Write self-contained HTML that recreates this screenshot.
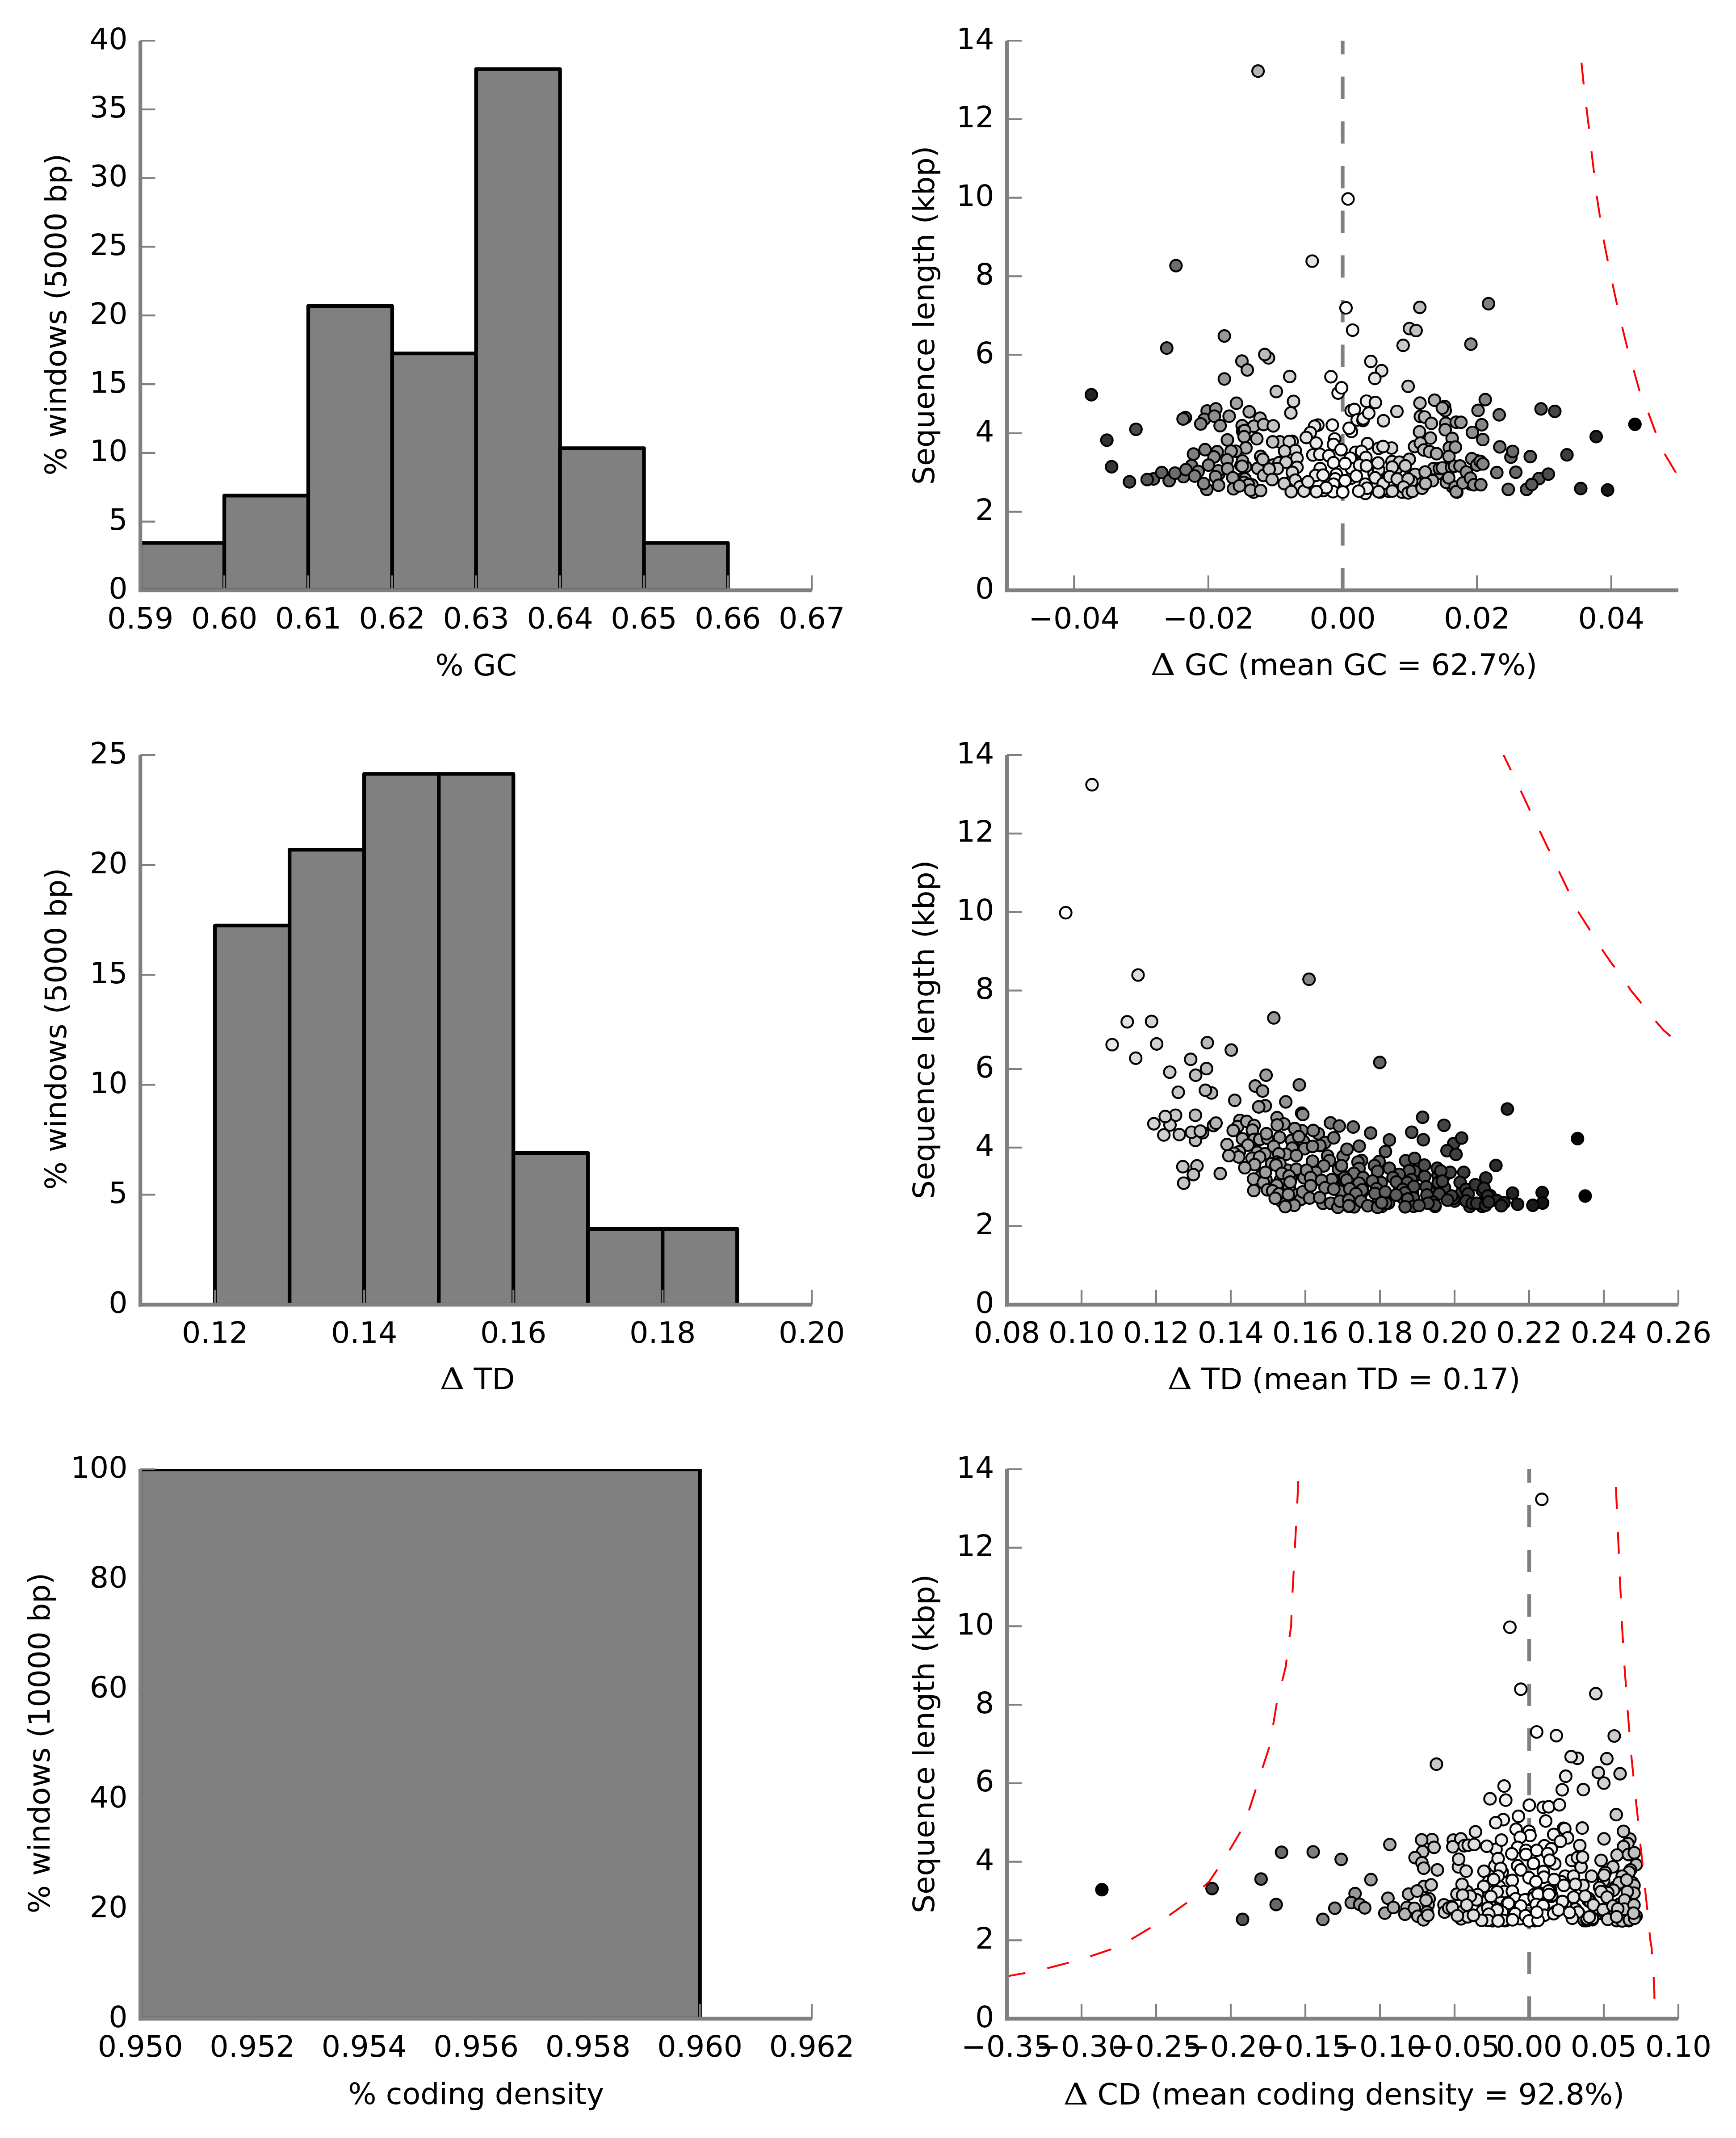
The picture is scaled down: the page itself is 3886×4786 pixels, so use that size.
<!DOCTYPE html>
<html><head><meta charset="utf-8"><title>figure</title>
<style>html,body{margin:0;padding:0;background:#fff}svg{display:block}
text{font-family:"DejaVu Sans","Liberation Sans",sans-serif;font-size:66.67px;fill:#000}</style></head>
<body><svg width="3886" height="4786" viewBox="0 0 3886 4786">
<rect width="3886" height="4786" fill="#fff"/>
<clipPath id="c1"><rect x="314.2" y="91.0" width="1503.0" height="1230.5"/></clipPath>
<g clip-path="url(#c1)">
<rect x="314.2" y="1215.4" width="187.9" height="106.1" fill="#808080" stroke="#000" stroke-width="8.33" stroke-linejoin="round"/>
<rect x="502.1" y="1109.3" width="187.9" height="212.2" fill="#808080" stroke="#000" stroke-width="8.33" stroke-linejoin="round"/>
<rect x="690.0" y="685.0" width="187.9" height="636.5" fill="#808080" stroke="#000" stroke-width="8.33" stroke-linejoin="round"/>
<rect x="877.8" y="791.1" width="187.9" height="530.4" fill="#808080" stroke="#000" stroke-width="8.33" stroke-linejoin="round"/>
<rect x="1065.7" y="154.6" width="187.9" height="1166.9" fill="#808080" stroke="#000" stroke-width="8.33" stroke-linejoin="round"/>
<rect x="1253.6" y="1003.3" width="187.9" height="318.2" fill="#808080" stroke="#000" stroke-width="8.33" stroke-linejoin="round"/>
<rect x="1441.5" y="1215.4" width="187.9" height="106.1" fill="#808080" stroke="#000" stroke-width="8.33" stroke-linejoin="round"/>
</g>
<line x1="314.2" y1="1321.5" x2="314.2" y2="1288.2" stroke="#808080" stroke-width="4.17"/>
<line x1="502.1" y1="1321.5" x2="502.1" y2="1288.2" stroke="#808080" stroke-width="4.17"/>
<line x1="690.0" y1="1321.5" x2="690.0" y2="1288.2" stroke="#808080" stroke-width="4.17"/>
<line x1="877.8" y1="1321.5" x2="877.8" y2="1288.2" stroke="#808080" stroke-width="4.17"/>
<line x1="1065.7" y1="1321.5" x2="1065.7" y2="1288.2" stroke="#808080" stroke-width="4.17"/>
<line x1="1253.6" y1="1321.5" x2="1253.6" y2="1288.2" stroke="#808080" stroke-width="4.17"/>
<line x1="1441.4" y1="1321.5" x2="1441.4" y2="1288.2" stroke="#808080" stroke-width="4.17"/>
<line x1="1629.3" y1="1321.5" x2="1629.3" y2="1288.2" stroke="#808080" stroke-width="4.17"/>
<line x1="1817.2" y1="1321.5" x2="1817.2" y2="1288.2" stroke="#808080" stroke-width="4.17"/>
<line x1="314.2" y1="1321.5" x2="347.5" y2="1321.5" stroke="#808080" stroke-width="4.17"/>
<line x1="314.2" y1="1167.7" x2="347.5" y2="1167.7" stroke="#808080" stroke-width="4.17"/>
<line x1="314.2" y1="1013.9" x2="347.5" y2="1013.9" stroke="#808080" stroke-width="4.17"/>
<line x1="314.2" y1="860.1" x2="347.5" y2="860.1" stroke="#808080" stroke-width="4.17"/>
<line x1="314.2" y1="706.2" x2="347.5" y2="706.2" stroke="#808080" stroke-width="4.17"/>
<line x1="314.2" y1="552.4" x2="347.5" y2="552.4" stroke="#808080" stroke-width="4.17"/>
<line x1="314.2" y1="398.6" x2="347.5" y2="398.6" stroke="#808080" stroke-width="4.17"/>
<line x1="314.2" y1="244.8" x2="347.5" y2="244.8" stroke="#808080" stroke-width="4.17"/>
<line x1="314.2" y1="91.0" x2="347.5" y2="91.0" stroke="#808080" stroke-width="4.17"/>
<line x1="314.2" y1="91.0" x2="314.2" y2="1325.7" stroke="#808080" stroke-width="8.33"/>
<line x1="310.0" y1="1321.5" x2="1817.2" y2="1321.5" stroke="#808080" stroke-width="8.33"/>
<text x="314.2" y="1406.5" text-anchor="middle">0.59</text>
<text x="502.1" y="1406.5" text-anchor="middle">0.60</text>
<text x="690.0" y="1406.5" text-anchor="middle">0.61</text>
<text x="877.8" y="1406.5" text-anchor="middle">0.62</text>
<text x="1065.7" y="1406.5" text-anchor="middle">0.63</text>
<text x="1253.6" y="1406.5" text-anchor="middle">0.64</text>
<text x="1441.4" y="1406.5" text-anchor="middle">0.65</text>
<text x="1629.3" y="1406.5" text-anchor="middle">0.66</text>
<text x="1817.2" y="1406.5" text-anchor="middle">0.67</text>
<text x="285.7" y="1340.0" text-anchor="end">0</text>
<text x="285.7" y="1186.2" text-anchor="end">5</text>
<text x="285.7" y="1032.4" text-anchor="end">10</text>
<text x="285.7" y="878.6" text-anchor="end">15</text>
<text x="285.7" y="724.8" text-anchor="end">20</text>
<text x="285.7" y="570.9" text-anchor="end">25</text>
<text x="285.7" y="417.1" text-anchor="end">30</text>
<text x="285.7" y="263.3" text-anchor="end">35</text>
<text x="285.7" y="109.5" text-anchor="end">40</text>
<text x="1065.7" y="1511.5" text-anchor="middle">% GC</text>
<text transform="translate(148.0,704.2) rotate(-90)" text-anchor="middle">% windows (5000 bp)</text>
<clipPath id="c2"><rect x="314.2" y="1690.0" width="1503.0" height="1230.5"/></clipPath>
<g clip-path="url(#c2)">
<rect x="481.2" y="2071.9" width="167.0" height="848.6" fill="#808080" stroke="#000" stroke-width="8.33" stroke-linejoin="round"/>
<rect x="648.2" y="1902.2" width="167.0" height="1018.3" fill="#808080" stroke="#000" stroke-width="8.33" stroke-linejoin="round"/>
<rect x="815.2" y="1732.4" width="167.0" height="1188.1" fill="#808080" stroke="#000" stroke-width="8.33" stroke-linejoin="round"/>
<rect x="982.2" y="1732.4" width="167.0" height="1188.1" fill="#808080" stroke="#000" stroke-width="8.33" stroke-linejoin="round"/>
<rect x="1149.2" y="2581.1" width="167.0" height="339.4" fill="#808080" stroke="#000" stroke-width="8.33" stroke-linejoin="round"/>
<rect x="1316.2" y="2750.8" width="167.0" height="169.7" fill="#808080" stroke="#000" stroke-width="8.33" stroke-linejoin="round"/>
<rect x="1483.2" y="2750.8" width="167.0" height="169.7" fill="#808080" stroke="#000" stroke-width="8.33" stroke-linejoin="round"/>
</g>
<line x1="481.2" y1="2920.5" x2="481.2" y2="2887.2" stroke="#808080" stroke-width="4.17"/>
<line x1="815.2" y1="2920.5" x2="815.2" y2="2887.2" stroke="#808080" stroke-width="4.17"/>
<line x1="1149.2" y1="2920.5" x2="1149.2" y2="2887.2" stroke="#808080" stroke-width="4.17"/>
<line x1="1483.2" y1="2920.5" x2="1483.2" y2="2887.2" stroke="#808080" stroke-width="4.17"/>
<line x1="1817.2" y1="2920.5" x2="1817.2" y2="2887.2" stroke="#808080" stroke-width="4.17"/>
<line x1="314.2" y1="2920.5" x2="347.5" y2="2920.5" stroke="#808080" stroke-width="4.17"/>
<line x1="314.2" y1="2674.4" x2="347.5" y2="2674.4" stroke="#808080" stroke-width="4.17"/>
<line x1="314.2" y1="2428.3" x2="347.5" y2="2428.3" stroke="#808080" stroke-width="4.17"/>
<line x1="314.2" y1="2182.2" x2="347.5" y2="2182.2" stroke="#808080" stroke-width="4.17"/>
<line x1="314.2" y1="1936.1" x2="347.5" y2="1936.1" stroke="#808080" stroke-width="4.17"/>
<line x1="314.2" y1="1690.0" x2="347.5" y2="1690.0" stroke="#808080" stroke-width="4.17"/>
<line x1="314.2" y1="1690.0" x2="314.2" y2="2924.7" stroke="#808080" stroke-width="8.33"/>
<line x1="310.0" y1="2920.5" x2="1817.2" y2="2920.5" stroke="#808080" stroke-width="8.33"/>
<text x="481.2" y="3005.5" text-anchor="middle">0.12</text>
<text x="815.2" y="3005.5" text-anchor="middle">0.14</text>
<text x="1149.2" y="3005.5" text-anchor="middle">0.16</text>
<text x="1483.2" y="3005.5" text-anchor="middle">0.18</text>
<text x="1817.2" y="3005.5" text-anchor="middle">0.20</text>
<text x="285.7" y="2939.0" text-anchor="end">0</text>
<text x="285.7" y="2692.9" text-anchor="end">5</text>
<text x="285.7" y="2446.8" text-anchor="end">10</text>
<text x="285.7" y="2200.7" text-anchor="end">15</text>
<text x="285.7" y="1954.6" text-anchor="end">20</text>
<text x="285.7" y="1708.5" text-anchor="end">25</text>
<text transform="translate(987.8,3109.8) scale(1.167,1)" x="-3" y="0" style="font-family:'DejaVu Serif','Liberation Serif',serif">Δ</text>
<text x="1106.6" y="3109.8" text-anchor="middle">TD</text>
<text transform="translate(148.0,2303.2) rotate(-90)" text-anchor="middle">% windows (5000 bp)</text>
<clipPath id="c3"><rect x="314.2" y="3289.0" width="1503.0" height="1230.0"/></clipPath>
<g clip-path="url(#c3)">
<rect x="314.2" y="3289.0" width="1252.5" height="1230.0" fill="#808080" stroke="#000" stroke-width="8.33" stroke-linejoin="round"/>
</g>
<line x1="314.2" y1="4519.0" x2="314.2" y2="4485.7" stroke="#808080" stroke-width="4.17"/>
<line x1="564.7" y1="4519.0" x2="564.7" y2="4485.7" stroke="#808080" stroke-width="4.17"/>
<line x1="815.2" y1="4519.0" x2="815.2" y2="4485.7" stroke="#808080" stroke-width="4.17"/>
<line x1="1065.7" y1="4519.0" x2="1065.7" y2="4485.7" stroke="#808080" stroke-width="4.17"/>
<line x1="1316.2" y1="4519.0" x2="1316.2" y2="4485.7" stroke="#808080" stroke-width="4.17"/>
<line x1="1566.7" y1="4519.0" x2="1566.7" y2="4485.7" stroke="#808080" stroke-width="4.17"/>
<line x1="1817.2" y1="4519.0" x2="1817.2" y2="4485.7" stroke="#808080" stroke-width="4.17"/>
<line x1="314.2" y1="4519.0" x2="347.5" y2="4519.0" stroke="#808080" stroke-width="4.17"/>
<line x1="314.2" y1="4273.0" x2="347.5" y2="4273.0" stroke="#808080" stroke-width="4.17"/>
<line x1="314.2" y1="4027.0" x2="347.5" y2="4027.0" stroke="#808080" stroke-width="4.17"/>
<line x1="314.2" y1="3781.0" x2="347.5" y2="3781.0" stroke="#808080" stroke-width="4.17"/>
<line x1="314.2" y1="3535.0" x2="347.5" y2="3535.0" stroke="#808080" stroke-width="4.17"/>
<line x1="314.2" y1="3289.0" x2="347.5" y2="3289.0" stroke="#808080" stroke-width="4.17"/>
<line x1="314.2" y1="3289.0" x2="314.2" y2="4523.2" stroke="#808080" stroke-width="8.33"/>
<line x1="310.0" y1="4519.0" x2="1817.2" y2="4519.0" stroke="#808080" stroke-width="8.33"/>
<text x="314.2" y="4604.0" text-anchor="middle">0.950</text>
<text x="564.7" y="4604.0" text-anchor="middle">0.952</text>
<text x="815.2" y="4604.0" text-anchor="middle">0.954</text>
<text x="1065.7" y="4604.0" text-anchor="middle">0.956</text>
<text x="1316.2" y="4604.0" text-anchor="middle">0.958</text>
<text x="1566.7" y="4604.0" text-anchor="middle">0.960</text>
<text x="1817.2" y="4604.0" text-anchor="middle">0.962</text>
<text x="285.7" y="4537.5" text-anchor="end">0</text>
<text x="285.7" y="4291.5" text-anchor="end">20</text>
<text x="285.7" y="4045.5" text-anchor="end">40</text>
<text x="285.7" y="3799.5" text-anchor="end">60</text>
<text x="285.7" y="3553.5" text-anchor="end">80</text>
<text x="285.7" y="3307.5" text-anchor="end">100</text>
<text x="1065.7" y="4709.8" text-anchor="middle">% coding density</text>
<text transform="translate(110.7,3902.0) rotate(-90)" text-anchor="middle">% windows (10000 bp)</text>
<line x1="3005.5" y1="1321.5" x2="3005.5" y2="91.0" stroke="#808080" stroke-width="8.33" stroke-dasharray="50 50"/>
<clipPath id="s1"><rect x="2254.0" y="91.0" width="1503.0" height="1230.5"/></clipPath>
<g clip-path="url(#s1)" stroke="#000" stroke-width="4.17">
<circle cx="2780.0" cy="1072.1" r="13" fill="#a7a7a7"/>
<circle cx="3095.6" cy="1079.1" r="13" fill="#dcdcdc"/>
<circle cx="3084.1" cy="1058.7" r="13" fill="#e0e0e0"/>
<circle cx="2921.5" cy="1088.3" r="13" fill="#dedede"/>
<circle cx="3138.4" cy="1101.7" r="13" fill="#cbcbcb"/>
<circle cx="3311.6" cy="1036.3" r="13" fill="#888888"/>
<circle cx="2728.1" cy="1061.4" r="13" fill="#939393"/>
<circle cx="3305.6" cy="1031.7" r="13" fill="#8a8a8a"/>
<circle cx="3173.5" cy="1088.7" r="13" fill="#bebebe"/>
<circle cx="3251.5" cy="1090.0" r="13" fill="#9f9f9f"/>
<circle cx="2806.2" cy="1101.7" r="13" fill="#b2b2b2"/>
<circle cx="3291.5" cy="1083.4" r="13" fill="#909090"/>
<circle cx="3176.9" cy="1066.6" r="13" fill="#bcbcbc"/>
<circle cx="2982.8" cy="1085.5" r="13" fill="#f6f6f6"/>
<circle cx="3120.4" cy="1067.1" r="13" fill="#d2d2d2"/>
<circle cx="3238.5" cy="1046.9" r="13" fill="#a4a4a4"/>
<circle cx="3075.9" cy="1060.4" r="13" fill="#e4e4e4"/>
<circle cx="3024.4" cy="1070.3" r="13" fill="#f8f8f8"/>
<circle cx="2802.5" cy="1085.7" r="13" fill="#b0b0b0"/>
<circle cx="3081.2" cy="1042.9" r="13" fill="#e2e2e2"/>
<circle cx="3119.9" cy="1040.3" r="13" fill="#d3d3d3"/>
<circle cx="3193.6" cy="1079.5" r="13" fill="#b6b6b6"/>
<circle cx="2849.9" cy="1041.2" r="13" fill="#c3c3c3"/>
<circle cx="2788.1" cy="1044.7" r="13" fill="#aaaaaa"/>
<circle cx="3109.1" cy="1099.8" r="13" fill="#d7d7d7"/>
<circle cx="3218.0" cy="1060.3" r="13" fill="#acacac"/>
<circle cx="3261.0" cy="1101.7" r="13" fill="#9c9c9c"/>
<circle cx="2777.9" cy="1042.0" r="13" fill="#a7a7a7"/>
<circle cx="3168.6" cy="1077.8" r="13" fill="#c0c0c0"/>
<circle cx="3153.5" cy="1101.7" r="13" fill="#c5c5c5"/>
<circle cx="3127.0" cy="1047.7" r="13" fill="#d0d0d0"/>
<circle cx="2887.1" cy="1080.1" r="13" fill="#d1d1d1"/>
<circle cx="3003.3" cy="1087.5" r="13" fill="#fefefe"/>
<circle cx="3155.6" cy="1101.7" r="13" fill="#c5c5c5"/>
<circle cx="3088.8" cy="1101.7" r="13" fill="#dfdfdf"/>
<circle cx="2816.1" cy="159.2" r="13" fill="#b5b5b5"/>
<circle cx="3017.5" cy="445.4" r="13" fill="#fafafa"/>
<circle cx="2937.3" cy="584.5" r="13" fill="#e4e4e4"/>
<circle cx="2632.4" cy="594.6" r="13" fill="#6e6e6e"/>
<circle cx="2740.7" cy="752.1" r="13" fill="#989898"/>
<circle cx="2611.7" cy="779.2" r="13" fill="#666666"/>
<circle cx="2740.7" cy="848.3" r="13" fill="#989898"/>
<circle cx="2767.8" cy="902.7" r="13" fill="#a3a3a3"/>
<circle cx="3013.0" cy="689.2" r="13" fill="#fcfcfc"/>
<circle cx="3178.2" cy="688.1" r="13" fill="#bcbcbc"/>
<circle cx="3332.0" cy="679.8" r="13" fill="#808080"/>
<circle cx="3027.8" cy="739.0" r="13" fill="#f6f6f6"/>
<circle cx="3155.0" cy="735.5" r="13" fill="#c5c5c5"/>
<circle cx="3169.9" cy="740.0" r="13" fill="#bfbfbf"/>
<circle cx="3140.9" cy="773.2" r="13" fill="#cacaca"/>
<circle cx="3292.6" cy="770.4" r="13" fill="#8f8f8f"/>
<circle cx="2839.5" cy="801.2" r="13" fill="#bebebe"/>
<circle cx="2831.2" cy="793.6" r="13" fill="#bbbbbb"/>
<circle cx="3068.6" cy="809.1" r="13" fill="#e6e6e6"/>
<circle cx="3092.8" cy="829.9" r="13" fill="#dddddd"/>
<circle cx="2780.0" cy="808.4" r="13" fill="#a7a7a7"/>
<circle cx="2792.1" cy="828.1" r="13" fill="#acacac"/>
<circle cx="2443.0" cy="883.7" r="13" fill="#242424"/>
<circle cx="2542.8" cy="961.0" r="13" fill="#4b4b4b"/>
<circle cx="2477.7" cy="985.3" r="13" fill="#323232"/>
<circle cx="2488.3" cy="1044.9" r="13" fill="#363636"/>
<circle cx="2528.3" cy="1078.6" r="13" fill="#464646"/>
<circle cx="2582.2" cy="1072.2" r="13" fill="#5a5a5a"/>
<circle cx="2567.9" cy="1073.5" r="13" fill="#555555"/>
<circle cx="2600.6" cy="1057.9" r="13" fill="#626262"/>
<circle cx="2617.2" cy="1076.0" r="13" fill="#686868"/>
<circle cx="2649.1" cy="1067.0" r="13" fill="#747474"/>
<circle cx="2630.1" cy="1059.2" r="13" fill="#6d6d6d"/>
<circle cx="2653.5" cy="934.8" r="13" fill="#767676"/>
<circle cx="2648.3" cy="937.9" r="13" fill="#747474"/>
<circle cx="2702.2" cy="920.0" r="13" fill="#898989"/>
<circle cx="2721.6" cy="915.3" r="13" fill="#919191"/>
<circle cx="2695.7" cy="938.7" r="13" fill="#878787"/>
<circle cx="2718.3" cy="931.7" r="13" fill="#8f8f8f"/>
<circle cx="2687.9" cy="949.0" r="13" fill="#848484"/>
<circle cx="2731.2" cy="952.9" r="13" fill="#949494"/>
<circle cx="2751.4" cy="931.7" r="13" fill="#9c9c9c"/>
<circle cx="2796.3" cy="921.8" r="13" fill="#aeaeae"/>
<circle cx="2820.6" cy="936.1" r="13" fill="#b7b7b7"/>
<circle cx="2780.5" cy="952.9" r="13" fill="#a8a8a8"/>
<circle cx="2806.4" cy="954.2" r="13" fill="#b2b2b2"/>
<circle cx="2828.4" cy="950.3" r="13" fill="#bababa"/>
<circle cx="2781.8" cy="965.9" r="13" fill="#a8a8a8"/>
<circle cx="2786.2" cy="963.8" r="13" fill="#aaaaaa"/>
<circle cx="2784.9" cy="977.6" r="13" fill="#a9a9a9"/>
<circle cx="2813.4" cy="982.2" r="13" fill="#b4b4b4"/>
<circle cx="2747.5" cy="984.8" r="13" fill="#9b9b9b"/>
<circle cx="2789.0" cy="1002.7" r="13" fill="#ababab"/>
<circle cx="2766.2" cy="1010.0" r="13" fill="#a2a2a2"/>
<circle cx="2755.8" cy="1010.0" r="13" fill="#9e9e9e"/>
<circle cx="2697.5" cy="1006.6" r="13" fill="#878787"/>
<circle cx="2724.7" cy="1011.2" r="13" fill="#929292"/>
<circle cx="2671.6" cy="1016.4" r="13" fill="#7d7d7d"/>
<circle cx="2717.5" cy="1022.9" r="13" fill="#8f8f8f"/>
<circle cx="2746.8" cy="1029.4" r="13" fill="#9a9a9a"/>
<circle cx="2781.2" cy="1032.0" r="13" fill="#a8a8a8"/>
<circle cx="2780.5" cy="1043.6" r="13" fill="#a8a8a8"/>
<circle cx="2821.9" cy="1021.6" r="13" fill="#b8b8b8"/>
<circle cx="2705.3" cy="1041.1" r="13" fill="#8a8a8a"/>
<circle cx="2667.2" cy="1042.4" r="13" fill="#7b7b7b"/>
<circle cx="2654.8" cy="1051.4" r="13" fill="#777777"/>
<circle cx="2682.0" cy="1055.3" r="13" fill="#818181"/>
<circle cx="2727.3" cy="1054.0" r="13" fill="#939393"/>
<circle cx="2748.1" cy="1049.4" r="13" fill="#9b9b9b"/>
<circle cx="2815.5" cy="1048.3" r="13" fill="#b5b5b5"/>
<circle cx="2674.2" cy="1065.7" r="13" fill="#7e7e7e"/>
<circle cx="2720.9" cy="1067.0" r="13" fill="#909090"/>
<circle cx="2759.7" cy="1069.6" r="13" fill="#9f9f9f"/>
<circle cx="2786.9" cy="1072.2" r="13" fill="#aaaaaa"/>
<circle cx="2784.4" cy="1079.9" r="13" fill="#a9a9a9"/>
<circle cx="2701.4" cy="1095.5" r="13" fill="#898989"/>
<circle cx="2694.4" cy="1082.5" r="13" fill="#868686"/>
<circle cx="2727.8" cy="1086.4" r="13" fill="#939393"/>
<circle cx="2761.0" cy="1094.2" r="13" fill="#a0a0a0"/>
<circle cx="2794.7" cy="1085.1" r="13" fill="#adadad"/>
<circle cx="2774.5" cy="1087.7" r="13" fill="#a5a5a5"/>
<circle cx="2799.4" cy="1097.3" r="13" fill="#afafaf"/>
<circle cx="2821.9" cy="1098.1" r="13" fill="#b8b8b8"/>
<circle cx="2828.4" cy="1064.4" r="13" fill="#bababa"/>
<circle cx="2887.0" cy="842.8" r="13" fill="#d1d1d1"/>
<circle cx="2856.9" cy="876.5" r="13" fill="#c5c5c5"/>
<circle cx="2895.5" cy="898.5" r="13" fill="#d4d4d4"/>
<circle cx="2889.6" cy="924.4" r="13" fill="#d2d2d2"/>
<circle cx="2979.3" cy="843.3" r="13" fill="#f5f5f5"/>
<circle cx="2995.3" cy="879.8" r="13" fill="#fbfbfb"/>
<circle cx="3003.1" cy="868.2" r="13" fill="#fefefe"/>
<circle cx="3077.5" cy="847.2" r="13" fill="#e3e3e3"/>
<circle cx="3152.1" cy="864.8" r="13" fill="#c6c6c6"/>
<circle cx="3058.8" cy="898.0" r="13" fill="#eaeaea"/>
<circle cx="3078.8" cy="901.1" r="13" fill="#e3e3e3"/>
<circle cx="3024.6" cy="919.2" r="13" fill="#f8f8f8"/>
<circle cx="3031.6" cy="916.6" r="13" fill="#f5f5f5"/>
<circle cx="3038.1" cy="940.0" r="13" fill="#f2f2f2"/>
<circle cx="3051.1" cy="941.3" r="13" fill="#ededed"/>
<circle cx="3051.6" cy="937.4" r="13" fill="#ededed"/>
<circle cx="3064.0" cy="924.9" r="13" fill="#e8e8e8"/>
<circle cx="3127.0" cy="921.0" r="13" fill="#d0d0d0"/>
<circle cx="3096.9" cy="941.8" r="13" fill="#dbdbdb"/>
<circle cx="3178.6" cy="902.4" r="13" fill="#bcbcbc"/>
<circle cx="3211.2" cy="895.9" r="13" fill="#afafaf"/>
<circle cx="3233.8" cy="910.2" r="13" fill="#a6a6a6"/>
<circle cx="3235.1" cy="919.2" r="13" fill="#a6a6a6"/>
<circle cx="3228.6" cy="913.3" r="13" fill="#a8a8a8"/>
<circle cx="3179.4" cy="932.2" r="13" fill="#bbbbbb"/>
<circle cx="3189.0" cy="933.5" r="13" fill="#b8b8b8"/>
<circle cx="3204.0" cy="947.7" r="13" fill="#b2b2b2"/>
<circle cx="3236.4" cy="947.7" r="13" fill="#a5a5a5"/>
<circle cx="3235.1" cy="962.0" r="13" fill="#a6a6a6"/>
<circle cx="3259.7" cy="945.2" r="13" fill="#9c9c9c"/>
<circle cx="3177.5" cy="966.7" r="13" fill="#bcbcbc"/>
<circle cx="3201.9" cy="980.7" r="13" fill="#b3b3b3"/>
<circle cx="3250.6" cy="981.4" r="13" fill="#a0a0a0"/>
<circle cx="3166.4" cy="999.6" r="13" fill="#c0c0c0"/>
<circle cx="3179.4" cy="991.8" r="13" fill="#bbbbbb"/>
<circle cx="3187.1" cy="1007.4" r="13" fill="#b8b8b8"/>
<circle cx="3200.1" cy="1011.2" r="13" fill="#b3b3b3"/>
<circle cx="3215.7" cy="1015.7" r="13" fill="#adadad"/>
<circle cx="3244.2" cy="1002.2" r="13" fill="#a2a2a2"/>
<circle cx="3243.4" cy="1021.6" r="13" fill="#a3a3a3"/>
<circle cx="2850.2" cy="953.4" r="13" fill="#c3c3c3"/>
<circle cx="2865.0" cy="989.2" r="13" fill="#c8c8c8"/>
<circle cx="2848.9" cy="989.2" r="13" fill="#c2c2c2"/>
<circle cx="2892.4" cy="987.9" r="13" fill="#d3d3d3"/>
<circle cx="2885.9" cy="988.4" r="13" fill="#d1d1d1"/>
<circle cx="2899.4" cy="1008.7" r="13" fill="#d6d6d6"/>
<circle cx="2875.6" cy="1010.0" r="13" fill="#cdcdcd"/>
<circle cx="2826.8" cy="1028.1" r="13" fill="#bababa"/>
<circle cx="2903.3" cy="1025.5" r="13" fill="#d7d7d7"/>
<circle cx="2863.1" cy="1035.9" r="13" fill="#c8c8c8"/>
<circle cx="2878.7" cy="1034.6" r="13" fill="#cecece"/>
<circle cx="2903.3" cy="1046.2" r="13" fill="#d7d7d7"/>
<circle cx="2859.2" cy="1048.8" r="13" fill="#c6c6c6"/>
<circle cx="2841.1" cy="1050.1" r="13" fill="#bfbfbf"/>
<circle cx="2892.9" cy="1057.4" r="13" fill="#d3d3d3"/>
<circle cx="2847.6" cy="1073.5" r="13" fill="#c2c2c2"/>
<circle cx="2874.8" cy="1082.5" r="13" fill="#cccccc"/>
<circle cx="2899.4" cy="1074.8" r="13" fill="#d6d6d6"/>
<circle cx="2909.8" cy="1089.8" r="13" fill="#dadada"/>
<circle cx="2890.4" cy="1100.7" r="13" fill="#d2d2d2"/>
<circle cx="2918.9" cy="1099.4" r="13" fill="#dddddd"/>
<circle cx="2950.0" cy="951.6" r="13" fill="#e9e9e9"/>
<circle cx="2942.7" cy="954.2" r="13" fill="#e7e7e7"/>
<circle cx="2933.1" cy="968.5" r="13" fill="#e3e3e3"/>
<circle cx="2924.0" cy="979.4" r="13" fill="#dfdfdf"/>
<circle cx="2982.4" cy="951.6" r="13" fill="#f6f6f6"/>
<circle cx="2987.6" cy="982.7" r="13" fill="#f8f8f8"/>
<circle cx="2946.1" cy="991.8" r="13" fill="#e8e8e8"/>
<circle cx="2985.0" cy="994.9" r="13" fill="#f7f7f7"/>
<circle cx="3001.8" cy="1006.6" r="13" fill="#fefefe"/>
<circle cx="2938.8" cy="1018.5" r="13" fill="#e5e5e5"/>
<circle cx="2954.4" cy="1017.0" r="13" fill="#ebebeb"/>
<circle cx="2974.6" cy="1020.3" r="13" fill="#f3f3f3"/>
<circle cx="3025.1" cy="965.9" r="13" fill="#f7f7f7"/>
<circle cx="3020.0" cy="958.6" r="13" fill="#f9f9f9"/>
<circle cx="3060.9" cy="993.1" r="13" fill="#e9e9e9"/>
<circle cx="3034.2" cy="1012.5" r="13" fill="#f4f4f4"/>
<circle cx="3047.7" cy="1010.5" r="13" fill="#efefef"/>
<circle cx="3057.5" cy="1024.2" r="13" fill="#ebebeb"/>
<circle cx="3086.0" cy="1003.5" r="13" fill="#e0e0e0"/>
<circle cx="3115.1" cy="1003.0" r="13" fill="#d4d4d4"/>
<circle cx="3095.9" cy="999.6" r="13" fill="#dcdcdc"/>
<circle cx="3022.5" cy="1025.5" r="13" fill="#f8f8f8"/>
<circle cx="3025.1" cy="1048.8" r="13" fill="#f7f7f7"/>
<circle cx="2985.0" cy="1035.9" r="13" fill="#f7f7f7"/>
<circle cx="3010.9" cy="1037.7" r="13" fill="#fdfdfd"/>
<circle cx="2955.2" cy="1048.8" r="13" fill="#ebebeb"/>
<circle cx="2944.8" cy="1064.4" r="13" fill="#e7e7e7"/>
<circle cx="2961.6" cy="1063.6" r="13" fill="#eeeeee"/>
<circle cx="2927.9" cy="1078.6" r="13" fill="#e1e1e1"/>
<circle cx="2991.4" cy="1061.8" r="13" fill="#fafafa"/>
<circle cx="2988.8" cy="1072.2" r="13" fill="#f9f9f9"/>
<circle cx="2985.0" cy="1083.8" r="13" fill="#f7f7f7"/>
<circle cx="2962.9" cy="1098.1" r="13" fill="#eeeeee"/>
<circle cx="2983.7" cy="1100.7" r="13" fill="#f7f7f7"/>
<circle cx="2968.6" cy="1091.6" r="13" fill="#f1f1f1"/>
<circle cx="2946.6" cy="1100.7" r="13" fill="#e8e8e8"/>
<circle cx="3010.9" cy="1076.0" r="13" fill="#fdfdfd"/>
<circle cx="3005.7" cy="1101.5" r="13" fill="#ffffff"/>
<circle cx="3043.3" cy="1041.1" r="13" fill="#f0f0f0"/>
<circle cx="3036.0" cy="1065.7" r="13" fill="#f3f3f3"/>
<circle cx="3058.8" cy="1042.9" r="13" fill="#eaeaea"/>
<circle cx="3086.0" cy="1051.4" r="13" fill="#e0e0e0"/>
<circle cx="3084.8" cy="1036.4" r="13" fill="#e0e0e0"/>
<circle cx="3078.3" cy="1069.6" r="13" fill="#e3e3e3"/>
<circle cx="3056.2" cy="1083.8" r="13" fill="#ebebeb"/>
<circle cx="3056.2" cy="1104.6" r="13" fill="#ebebeb"/>
<circle cx="3060.1" cy="1092.9" r="13" fill="#eaeaea"/>
<circle cx="3041.5" cy="1099.4" r="13" fill="#f1f1f1"/>
<circle cx="3095.1" cy="1095.5" r="13" fill="#dcdcdc"/>
<circle cx="3096.4" cy="1082.5" r="13" fill="#dcdcdc"/>
<circle cx="3086.0" cy="1100.7" r="13" fill="#e0e0e0"/>
<circle cx="3115.9" cy="1033.3" r="13" fill="#d4d4d4"/>
<circle cx="3132.7" cy="1034.6" r="13" fill="#cecece"/>
<circle cx="3154.7" cy="1028.1" r="13" fill="#c5c5c5"/>
<circle cx="3116.6" cy="1045.7" r="13" fill="#d4d4d4"/>
<circle cx="3145.7" cy="1042.9" r="13" fill="#c9c9c9"/>
<circle cx="3110.7" cy="1067.0" r="13" fill="#d6d6d6"/>
<circle cx="3167.7" cy="1061.8" r="13" fill="#c0c0c0"/>
<circle cx="3159.9" cy="1077.3" r="13" fill="#c3c3c3"/>
<circle cx="3127.5" cy="1072.2" r="13" fill="#d0d0d0"/>
<circle cx="3152.1" cy="1072.2" r="13" fill="#c6c6c6"/>
<circle cx="3141.8" cy="1090.3" r="13" fill="#cacaca"/>
<circle cx="3152.1" cy="1103.3" r="13" fill="#c6c6c6"/>
<circle cx="3116.6" cy="1099.4" r="13" fill="#d4d4d4"/>
<circle cx="3161.7" cy="1099.9" r="13" fill="#c2c2c2"/>
<circle cx="3209.2" cy="1048.8" r="13" fill="#b0b0b0"/>
<circle cx="3222.1" cy="1048.8" r="13" fill="#ababab"/>
<circle cx="3190.2" cy="1056.6" r="13" fill="#b7b7b7"/>
<circle cx="3228.6" cy="1047.5" r="13" fill="#a8a8a8"/>
<circle cx="3206.6" cy="1076.0" r="13" fill="#b1b1b1"/>
<circle cx="3183.3" cy="1092.9" r="13" fill="#bababa"/>
<circle cx="3191.0" cy="1082.5" r="13" fill="#b7b7b7"/>
<circle cx="3249.3" cy="1046.2" r="13" fill="#a0a0a0"/>
<circle cx="3237.7" cy="1079.9" r="13" fill="#a5a5a5"/>
<circle cx="3242.9" cy="1069.6" r="13" fill="#a3a3a3"/>
<circle cx="3255.8" cy="1043.6" r="13" fill="#9e9e9e"/>
<circle cx="3257.1" cy="1090.3" r="13" fill="#9d9d9d"/>
<circle cx="3259.7" cy="1100.7" r="13" fill="#9c9c9c"/>
<circle cx="3324.7" cy="894.6" r="13" fill="#838383"/>
<circle cx="3308.6" cy="918.7" r="13" fill="#898989"/>
<circle cx="3356.0" cy="928.6" r="13" fill="#777777"/>
<circle cx="3449.6" cy="915.3" r="13" fill="#525252"/>
<circle cx="3480.4" cy="920.8" r="13" fill="#464646"/>
<circle cx="3270.2" cy="945.4" r="13" fill="#989898"/>
<circle cx="3316.9" cy="950.9" r="13" fill="#868686"/>
<circle cx="3295.9" cy="968.0" r="13" fill="#8e8e8e"/>
<circle cx="3319.2" cy="984.0" r="13" fill="#858585"/>
<circle cx="3257.8" cy="1000.9" r="13" fill="#9d9d9d"/>
<circle cx="3357.3" cy="1000.4" r="13" fill="#767676"/>
<circle cx="3382.2" cy="1023.4" r="13" fill="#6d6d6d"/>
<circle cx="3386.1" cy="1010.5" r="13" fill="#6b6b6b"/>
<circle cx="3425.5" cy="1022.1" r="13" fill="#5c5c5c"/>
<circle cx="3507.6" cy="1018.2" r="13" fill="#3c3c3c"/>
<circle cx="3573.0" cy="977.3" r="13" fill="#222222"/>
<circle cx="3659.8" cy="949.8" r="13" fill="#010101"/>
<circle cx="3294.6" cy="1026.8" r="13" fill="#8f8f8f"/>
<circle cx="3305.7" cy="1041.1" r="13" fill="#8a8a8a"/>
<circle cx="3313.5" cy="1032.8" r="13" fill="#878787"/>
<circle cx="3319.5" cy="1038.5" r="13" fill="#858585"/>
<circle cx="3268.1" cy="1043.1" r="13" fill="#999999"/>
<circle cx="3282.4" cy="1056.6" r="13" fill="#939393"/>
<circle cx="3350.6" cy="1057.9" r="13" fill="#797979"/>
<circle cx="3393.1" cy="1057.1" r="13" fill="#686868"/>
<circle cx="3444.9" cy="1071.4" r="13" fill="#545454"/>
<circle cx="3465.9" cy="1061.3" r="13" fill="#4c4c4c"/>
<circle cx="3417.2" cy="1095.5" r="13" fill="#5f5f5f"/>
<circle cx="3428.8" cy="1084.6" r="13" fill="#5a5a5a"/>
<circle cx="3376.2" cy="1095.5" r="13" fill="#6f6f6f"/>
<circle cx="3274.6" cy="1081.2" r="13" fill="#969696"/>
<circle cx="3291.5" cy="1070.3" r="13" fill="#909090"/>
<circle cx="3299.2" cy="1085.1" r="13" fill="#8d8d8d"/>
<circle cx="3314.8" cy="1085.1" r="13" fill="#878787"/>
<circle cx="3538.5" cy="1093.7" r="13" fill="#303030"/>
<circle cx="3598.6" cy="1096.8" r="13" fill="#181818"/>
</g>
<path d="M3540.1 140.5 L3545.0 189.0 M3551.0 239.5 L3557.0 288.0 M3562.4 338.5 L3568.3 387.0 M3574.3 438.5 L3581.7 487.0 M3589.6 536.5 L3599.0 584.6 M3609.4 634.6 L3619.8 682.6 M3631.2 732.0 L3643.0 780.0 M3657.0 828.6 L3670.3 876.0 M3689.6 923.7 L3706.4 969.0 M3726.2 1015.8 L3751.5 1058.3" fill="none" stroke="#ff0000" stroke-width="4.17" stroke-linejoin="round" clip-path="url(#s1)"/>
<line x1="2404.3" y1="1321.5" x2="2404.3" y2="1288.2" stroke="#808080" stroke-width="4.17"/>
<line x1="2704.9" y1="1321.5" x2="2704.9" y2="1288.2" stroke="#808080" stroke-width="4.17"/>
<line x1="3005.5" y1="1321.5" x2="3005.5" y2="1288.2" stroke="#808080" stroke-width="4.17"/>
<line x1="3306.1" y1="1321.5" x2="3306.1" y2="1288.2" stroke="#808080" stroke-width="4.17"/>
<line x1="3606.7" y1="1321.5" x2="3606.7" y2="1288.2" stroke="#808080" stroke-width="4.17"/>
<line x1="2254.0" y1="1321.5" x2="2287.3" y2="1321.5" stroke="#808080" stroke-width="4.17"/>
<line x1="2254.0" y1="1145.7" x2="2287.3" y2="1145.7" stroke="#808080" stroke-width="4.17"/>
<line x1="2254.0" y1="969.9" x2="2287.3" y2="969.9" stroke="#808080" stroke-width="4.17"/>
<line x1="2254.0" y1="794.1" x2="2287.3" y2="794.1" stroke="#808080" stroke-width="4.17"/>
<line x1="2254.0" y1="618.4" x2="2287.3" y2="618.4" stroke="#808080" stroke-width="4.17"/>
<line x1="2254.0" y1="442.6" x2="2287.3" y2="442.6" stroke="#808080" stroke-width="4.17"/>
<line x1="2254.0" y1="266.8" x2="2287.3" y2="266.8" stroke="#808080" stroke-width="4.17"/>
<line x1="2254.0" y1="91.0" x2="2287.3" y2="91.0" stroke="#808080" stroke-width="4.17"/>
<line x1="2254.0" y1="91.0" x2="2254.0" y2="1325.7" stroke="#808080" stroke-width="8.33"/>
<line x1="2249.8" y1="1321.5" x2="3757.0" y2="1321.5" stroke="#808080" stroke-width="8.33"/>
<text x="2404.3" y="1406.5" text-anchor="middle">−0.04</text>
<text x="2704.9" y="1406.5" text-anchor="middle">−0.02</text>
<text x="3005.5" y="1406.5" text-anchor="middle">0.00</text>
<text x="3306.1" y="1406.5" text-anchor="middle">0.02</text>
<text x="3606.7" y="1406.5" text-anchor="middle">0.04</text>
<text x="2225.5" y="1340.0" text-anchor="end">0</text>
<text x="2225.5" y="1164.2" text-anchor="end">2</text>
<text x="2225.5" y="988.4" text-anchor="end">4</text>
<text x="2225.5" y="812.6" text-anchor="end">6</text>
<text x="2225.5" y="636.9" text-anchor="end">8</text>
<text x="2225.5" y="461.1" text-anchor="end">10</text>
<text x="2225.5" y="285.3" text-anchor="end">12</text>
<text x="2225.5" y="109.5" text-anchor="end">14</text>
<text transform="translate(2578.7,1511.3) scale(1.167,1)" x="-3" y="0" style="font-family:'DejaVu Serif','Liberation Serif',serif">Δ</text>
<text x="3046.4" y="1511.3" text-anchor="middle">GC (mean GC = 62.7%)</text>
<text transform="translate(2090.5,705.8) rotate(-90)" text-anchor="middle">Sequence length (kbp)</text>
<clipPath id="s2"><rect x="2254.0" y="1690.0" width="1503.0" height="1230.5"/></clipPath>
<g clip-path="url(#s2)" stroke="#000" stroke-width="4.17">
<circle cx="2899.6" cy="2681.5" r="13" fill="#8e8e8e"/>
<circle cx="3078.7" cy="2648.7" r="13" fill="#676767"/>
<circle cx="3042.0" cy="2655.4" r="13" fill="#6f6f6f"/>
<circle cx="2890.2" cy="2636.6" r="13" fill="#909090"/>
<circle cx="3211.9" cy="2699.7" r="13" fill="#4a4a4a"/>
<circle cx="3031.7" cy="2687.7" r="13" fill="#717171"/>
<circle cx="3212.3" cy="2700.7" r="13" fill="#4a4a4a"/>
<circle cx="2881.8" cy="2668.7" r="13" fill="#929292"/>
<circle cx="2876.5" cy="2647.5" r="13" fill="#939393"/>
<circle cx="3019.4" cy="2700.5" r="13" fill="#747474"/>
<circle cx="3093.1" cy="2700.7" r="13" fill="#646464"/>
<circle cx="3256.1" cy="2688.7" r="13" fill="#404040"/>
<circle cx="3148.1" cy="2658.3" r="13" fill="#585858"/>
<circle cx="3272.3" cy="2669.5" r="13" fill="#3d3d3d"/>
<circle cx="2997.6" cy="2661.9" r="13" fill="#797979"/>
<circle cx="3108.3" cy="2693.1" r="13" fill="#616161"/>
<circle cx="3204.7" cy="2665.4" r="13" fill="#4b4b4b"/>
<circle cx="3082.6" cy="2647.2" r="13" fill="#666666"/>
<circle cx="3290.3" cy="2700.7" r="13" fill="#393939"/>
<circle cx="3001.2" cy="2689.0" r="13" fill="#787878"/>
<circle cx="3340.7" cy="2685.3" r="13" fill="#2e2e2e"/>
<circle cx="3099.1" cy="2693.3" r="13" fill="#636363"/>
<circle cx="3173.5" cy="2629.5" r="13" fill="#525252"/>
<circle cx="3168.5" cy="2694.0" r="13" fill="#535353"/>
<circle cx="3224.6" cy="2659.0" r="13" fill="#474747"/>
<circle cx="3020.9" cy="2694.9" r="13" fill="#747474"/>
<circle cx="2875.5" cy="2642.3" r="13" fill="#949494"/>
<circle cx="3233.6" cy="2632.2" r="13" fill="#454545"/>
<circle cx="2902.7" cy="2674.5" r="13" fill="#8e8e8e"/>
<circle cx="2882.4" cy="2619.6" r="13" fill="#929292"/>
<circle cx="3219.0" cy="2630.9" r="13" fill="#484848"/>
<circle cx="3090.1" cy="2675.2" r="13" fill="#656565"/>
<circle cx="3047.6" cy="2670.9" r="13" fill="#6e6e6e"/>
<circle cx="2873.9" cy="2679.9" r="13" fill="#949494"/>
<circle cx="3335.7" cy="2676.5" r="13" fill="#2f2f2f"/>
<circle cx="2967.8" cy="2648.6" r="13" fill="#7f7f7f"/>
<circle cx="3010.4" cy="2643.8" r="13" fill="#767676"/>
<circle cx="3086.1" cy="2684.9" r="13" fill="#656565"/>
<circle cx="3253.8" cy="2682.9" r="13" fill="#414141"/>
<circle cx="3019.3" cy="2634.7" r="13" fill="#747474"/>
<circle cx="3000.4" cy="2624.6" r="13" fill="#787878"/>
<circle cx="3317.8" cy="2700.7" r="13" fill="#333333"/>
<circle cx="3200.3" cy="2686.4" r="13" fill="#4c4c4c"/>
<circle cx="3223.0" cy="2655.8" r="13" fill="#474747"/>
<circle cx="3133.2" cy="2660.2" r="13" fill="#5b5b5b"/>
<circle cx="3026.5" cy="2689.4" r="13" fill="#727272"/>
<circle cx="3161.6" cy="2671.0" r="13" fill="#555555"/>
<circle cx="2869.6" cy="2689.9" r="13" fill="#959595"/>
<circle cx="3132.8" cy="2634.7" r="13" fill="#5b5b5b"/>
<circle cx="2886.2" cy="2655.6" r="13" fill="#919191"/>
<circle cx="3050.0" cy="2660.1" r="13" fill="#6d6d6d"/>
<circle cx="3005.7" cy="2689.1" r="13" fill="#777777"/>
<circle cx="2938.4" cy="2635.3" r="13" fill="#868686"/>
<circle cx="2858.5" cy="2664.9" r="13" fill="#979797"/>
<circle cx="3318.2" cy="2665.3" r="13" fill="#323232"/>
<circle cx="3139.3" cy="2680.9" r="13" fill="#5a5a5a"/>
<circle cx="2866.7" cy="2640.8" r="13" fill="#959595"/>
<circle cx="3324.9" cy="2689.9" r="13" fill="#313131"/>
<circle cx="3199.7" cy="2679.6" r="13" fill="#4c4c4c"/>
<circle cx="2882.0" cy="2668.8" r="13" fill="#929292"/>
<circle cx="2444.5" cy="1756.7" r="13" fill="#f2f2f2"/>
<circle cx="2385.6" cy="2043.2" r="13" fill="#ffffff"/>
<circle cx="2547.5" cy="2182.6" r="13" fill="#dbdbdb"/>
<circle cx="2930.2" cy="2192.2" r="13" fill="#888888"/>
<circle cx="2523.3" cy="2287.4" r="13" fill="#e1e1e1"/>
<circle cx="2577.8" cy="2286.5" r="13" fill="#d5d5d5"/>
<circle cx="2851.4" cy="2278.7" r="13" fill="#999999"/>
<circle cx="2489.5" cy="2338.5" r="13" fill="#e8e8e8"/>
<circle cx="2589.1" cy="2336.8" r="13" fill="#d2d2d2"/>
<circle cx="2702.5" cy="2334.2" r="13" fill="#bababa"/>
<circle cx="2756.2" cy="2350.6" r="13" fill="#aeaeae"/>
<circle cx="2542.3" cy="2368.8" r="13" fill="#dddddd"/>
<circle cx="3088.6" cy="2378.3" r="13" fill="#656565"/>
<circle cx="2665.3" cy="2371.4" r="13" fill="#c2c2c2"/>
<circle cx="2700.8" cy="2392.2" r="13" fill="#bababa"/>
<circle cx="2618.5" cy="2400.0" r="13" fill="#cccccc"/>
<circle cx="2676.5" cy="2406.9" r="13" fill="#bfbfbf"/>
<circle cx="2834.1" cy="2406.9" r="13" fill="#9d9d9d"/>
<circle cx="2809.8" cy="2431.1" r="13" fill="#a2a2a2"/>
<circle cx="2908.5" cy="2428.5" r="13" fill="#8c8c8c"/>
<circle cx="2826.3" cy="2442.4" r="13" fill="#9e9e9e"/>
<circle cx="2637.5" cy="2445.0" r="13" fill="#c8c8c8"/>
<circle cx="2712.0" cy="2446.7" r="13" fill="#b7b7b7"/>
<circle cx="2698.2" cy="2440.6" r="13" fill="#bababa"/>
<circle cx="2764.0" cy="2463.2" r="13" fill="#acacac"/>
<circle cx="2878.2" cy="2466.6" r="13" fill="#939393"/>
<circle cx="2832.4" cy="2475.3" r="13" fill="#9d9d9d"/>
<circle cx="2817.6" cy="2477.9" r="13" fill="#a0a0a0"/>
<circle cx="2913.7" cy="2491.8" r="13" fill="#8b8b8b"/>
<circle cx="2916.3" cy="2494.8" r="13" fill="#8b8b8b"/>
<circle cx="2631.5" cy="2496.5" r="13" fill="#c9c9c9"/>
<circle cx="2619.0" cy="2518.3" r="13" fill="#cccccc"/>
<circle cx="2608.4" cy="2499.4" r="13" fill="#cecece"/>
<circle cx="2582.9" cy="2515.6" r="13" fill="#d4d4d4"/>
<circle cx="2605.2" cy="2540.7" r="13" fill="#cfcfcf"/>
<circle cx="2639.8" cy="2539.8" r="13" fill="#c7c7c7"/>
<circle cx="2675.9" cy="2496.5" r="13" fill="#bfbfbf"/>
<circle cx="2675.9" cy="2552.9" r="13" fill="#bfbfbf"/>
<circle cx="2667.2" cy="2534.5" r="13" fill="#c1c1c1"/>
<circle cx="2692.1" cy="2535.6" r="13" fill="#bcbcbc"/>
<circle cx="2686.8" cy="2532.2" r="13" fill="#bdbdbd"/>
<circle cx="2716.3" cy="2519.5" r="13" fill="#b6b6b6"/>
<circle cx="2722.0" cy="2514.2" r="13" fill="#b5b5b5"/>
<circle cx="2775.5" cy="2508.0" r="13" fill="#a9a9a9"/>
<circle cx="2770.4" cy="2521.8" r="13" fill="#ababab"/>
<circle cx="2790.7" cy="2510.3" r="13" fill="#a6a6a6"/>
<circle cx="2807.3" cy="2519.5" r="13" fill="#a3a3a3"/>
<circle cx="2760.5" cy="2530.6" r="13" fill="#adadad"/>
<circle cx="2803.4" cy="2529.9" r="13" fill="#a3a3a3"/>
<circle cx="2807.3" cy="2550.6" r="13" fill="#a3a3a3"/>
<circle cx="2820.0" cy="2550.6" r="13" fill="#a0a0a0"/>
<circle cx="2781.2" cy="2549.4" r="13" fill="#a8a8a8"/>
<circle cx="2793.5" cy="2563.3" r="13" fill="#a6a6a6"/>
<circle cx="2746.7" cy="2562.1" r="13" fill="#b0b0b0"/>
<circle cx="2858.7" cy="2501.8" r="13" fill="#979797"/>
<circle cx="2874.1" cy="2516.0" r="13" fill="#949494"/>
<circle cx="2859.1" cy="2518.3" r="13" fill="#979797"/>
<circle cx="2837.2" cy="2548.3" r="13" fill="#9c9c9c"/>
<circle cx="2834.9" cy="2537.9" r="13" fill="#9c9c9c"/>
<circle cx="2864.4" cy="2546.0" r="13" fill="#969696"/>
<circle cx="2914.4" cy="2531.0" r="13" fill="#8b8b8b"/>
<circle cx="2898.3" cy="2526.4" r="13" fill="#8f8f8f"/>
<circle cx="2891.4" cy="2552.9" r="13" fill="#909090"/>
<circle cx="2917.9" cy="2555.2" r="13" fill="#8a8a8a"/>
<circle cx="2907.5" cy="2544.4" r="13" fill="#8d8d8d"/>
<circle cx="2851.1" cy="2566.3" r="13" fill="#999999"/>
<circle cx="2892.5" cy="2570.2" r="13" fill="#909090"/>
<circle cx="2920.2" cy="2571.3" r="13" fill="#8a8a8a"/>
<circle cx="2774.3" cy="2578.2" r="13" fill="#aaaaaa"/>
<circle cx="2762.4" cy="2581.7" r="13" fill="#acacac"/>
<circle cx="2772.7" cy="2589.8" r="13" fill="#aaaaaa"/>
<circle cx="2750.8" cy="2587.0" r="13" fill="#afafaf"/>
<circle cx="2814.2" cy="2579.4" r="13" fill="#a1a1a1"/>
<circle cx="2831.5" cy="2582.9" r="13" fill="#9d9d9d"/>
<circle cx="2802.7" cy="2592.8" r="13" fill="#a4a4a4"/>
<circle cx="2819.5" cy="2590.2" r="13" fill="#a0a0a0"/>
<circle cx="2808.4" cy="2607.1" r="13" fill="#a2a2a2"/>
<circle cx="2786.5" cy="2614.0" r="13" fill="#a7a7a7"/>
<circle cx="2878.7" cy="2584.0" r="13" fill="#939393"/>
<circle cx="2862.6" cy="2582.9" r="13" fill="#969696"/>
<circle cx="2901.8" cy="2586.8" r="13" fill="#8e8e8e"/>
<circle cx="2858.0" cy="2601.3" r="13" fill="#979797"/>
<circle cx="2846.5" cy="2604.7" r="13" fill="#9a9a9a"/>
<circle cx="2864.9" cy="2604.7" r="13" fill="#969696"/>
<circle cx="2856.1" cy="2608.2" r="13" fill="#989898"/>
<circle cx="2901.8" cy="2617.4" r="13" fill="#8e8e8e"/>
<circle cx="2869.5" cy="2626.6" r="13" fill="#959595"/>
<circle cx="2885.6" cy="2632.4" r="13" fill="#919191"/>
<circle cx="2919.0" cy="2636.5" r="13" fill="#8a8a8a"/>
<circle cx="2822.3" cy="2633.5" r="13" fill="#9f9f9f"/>
<circle cx="2806.1" cy="2639.3" r="13" fill="#a3a3a3"/>
<circle cx="2833.8" cy="2640.5" r="13" fill="#9d9d9d"/>
<circle cx="2828.0" cy="2647.4" r="13" fill="#9e9e9e"/>
<circle cx="2832.6" cy="2624.3" r="13" fill="#9d9d9d"/>
<circle cx="2858.0" cy="2653.1" r="13" fill="#979797"/>
<circle cx="2885.6" cy="2656.6" r="13" fill="#919191"/>
<circle cx="2887.9" cy="2646.2" r="13" fill="#919191"/>
<circle cx="2837.2" cy="2663.5" r="13" fill="#9c9c9c"/>
<circle cx="2806.6" cy="2665.1" r="13" fill="#a3a3a3"/>
<circle cx="2848.8" cy="2665.8" r="13" fill="#999999"/>
<circle cx="2862.6" cy="2672.7" r="13" fill="#969696"/>
<circle cx="2883.8" cy="2673.9" r="13" fill="#929292"/>
<circle cx="2911.0" cy="2685.4" r="13" fill="#8c8c8c"/>
<circle cx="2916.0" cy="2668.1" r="13" fill="#8b8b8b"/>
<circle cx="2854.5" cy="2682.4" r="13" fill="#989898"/>
<circle cx="2897.1" cy="2698.1" r="13" fill="#8f8f8f"/>
<circle cx="2876.9" cy="2701.1" r="13" fill="#939393"/>
<circle cx="2679.4" cy="2609.8" r="13" fill="#bfbfbf"/>
<circle cx="2647.8" cy="2611.7" r="13" fill="#c5c5c5"/>
<circle cx="2671.3" cy="2629.4" r="13" fill="#c0c0c0"/>
<circle cx="2649.7" cy="2648.5" r="13" fill="#c5c5c5"/>
<circle cx="2731.5" cy="2627.1" r="13" fill="#b3b3b3"/>
<circle cx="2978.3" cy="2513.7" r="13" fill="#7d7d7d"/>
<circle cx="2997.9" cy="2520.6" r="13" fill="#797979"/>
<circle cx="3029.2" cy="2522.9" r="13" fill="#727272"/>
<circle cx="3068.2" cy="2536.3" r="13" fill="#696969"/>
<circle cx="3110.1" cy="2551.8" r="13" fill="#606060"/>
<circle cx="3184.5" cy="2501.1" r="13" fill="#505050"/>
<circle cx="3160.1" cy="2534.5" r="13" fill="#555555"/>
<circle cx="3186.1" cy="2551.3" r="13" fill="#4f4f4f"/>
<circle cx="3232.4" cy="2519.0" r="13" fill="#454545"/>
<circle cx="3254.1" cy="2559.8" r="13" fill="#414141"/>
<circle cx="3271.8" cy="2547.6" r="13" fill="#3d3d3d"/>
<circle cx="3239.1" cy="2575.9" r="13" fill="#444444"/>
<circle cx="3259.2" cy="2584.0" r="13" fill="#3f3f3f"/>
<circle cx="2951.1" cy="2537.9" r="13" fill="#838383"/>
<circle cx="2939.6" cy="2530.6" r="13" fill="#868686"/>
<circle cx="2966.1" cy="2557.5" r="13" fill="#808080"/>
<circle cx="2985.7" cy="2547.1" r="13" fill="#7b7b7b"/>
<circle cx="2954.6" cy="2564.4" r="13" fill="#828282"/>
<circle cx="2938.0" cy="2566.3" r="13" fill="#868686"/>
<circle cx="3042.6" cy="2565.6" r="13" fill="#6f6f6f"/>
<circle cx="3006.4" cy="2588.6" r="13" fill="#777777"/>
<circle cx="3015.2" cy="2572.5" r="13" fill="#757575"/>
<circle cx="3101.3" cy="2577.8" r="13" fill="#626262"/>
<circle cx="2971.8" cy="2587.5" r="13" fill="#7e7e7e"/>
<circle cx="2976.0" cy="2597.8" r="13" fill="#7e7e7e"/>
<circle cx="2938.0" cy="2599.4" r="13" fill="#868686"/>
<circle cx="2963.3" cy="2609.8" r="13" fill="#808080"/>
<circle cx="2996.0" cy="2617.4" r="13" fill="#797979"/>
<circle cx="3002.9" cy="2609.4" r="13" fill="#787878"/>
<circle cx="3047.9" cy="2597.8" r="13" fill="#6e6e6e"/>
<circle cx="3039.8" cy="2601.3" r="13" fill="#707070"/>
<circle cx="3042.1" cy="2615.6" r="13" fill="#6f6f6f"/>
<circle cx="3087.1" cy="2600.1" r="13" fill="#656565"/>
<circle cx="3076.7" cy="2609.4" r="13" fill="#676767"/>
<circle cx="3083.6" cy="2622.0" r="13" fill="#666666"/>
<circle cx="3110.1" cy="2615.1" r="13" fill="#606060"/>
<circle cx="3146.5" cy="2598.3" r="13" fill="#585858"/>
<circle cx="3166.5" cy="2593.2" r="13" fill="#545454"/>
<circle cx="3188.4" cy="2608.2" r="13" fill="#4f4f4f"/>
<circle cx="3166.5" cy="2622.0" r="13" fill="#545454"/>
<circle cx="3154.3" cy="2620.9" r="13" fill="#565656"/>
<circle cx="3217.2" cy="2615.1" r="13" fill="#494949"/>
<circle cx="3246.0" cy="2624.3" r="13" fill="#424242"/>
<circle cx="3225.3" cy="2621.3" r="13" fill="#474747"/>
<circle cx="3276.7" cy="2624.3" r="13" fill="#3c3c3c"/>
<circle cx="2945.3" cy="2624.3" r="13" fill="#848484"/>
<circle cx="2924.6" cy="2619.7" r="13" fill="#898989"/>
<circle cx="2933.8" cy="2635.9" r="13" fill="#878787"/>
<circle cx="2981.1" cy="2640.5" r="13" fill="#7c7c7c"/>
<circle cx="2958.0" cy="2642.3" r="13" fill="#818181"/>
<circle cx="2933.8" cy="2654.3" r="13" fill="#878787"/>
<circle cx="3030.6" cy="2626.6" r="13" fill="#727272"/>
<circle cx="3009.9" cy="2635.9" r="13" fill="#767676"/>
<circle cx="3014.5" cy="2641.6" r="13" fill="#757575"/>
<circle cx="3051.3" cy="2635.9" r="13" fill="#6d6d6d"/>
<circle cx="3042.1" cy="2648.5" r="13" fill="#6f6f6f"/>
<circle cx="3091.7" cy="2647.4" r="13" fill="#646464"/>
<circle cx="3072.1" cy="2643.9" r="13" fill="#686868"/>
<circle cx="3132.0" cy="2628.9" r="13" fill="#5b5b5b"/>
<circle cx="3118.2" cy="2635.9" r="13" fill="#5e5e5e"/>
<circle cx="3125.8" cy="2645.8" r="13" fill="#5d5d5d"/>
<circle cx="3159.6" cy="2640.5" r="13" fill="#555555"/>
<circle cx="3150.4" cy="2647.4" r="13" fill="#575757"/>
<circle cx="3189.1" cy="2633.5" r="13" fill="#4f4f4f"/>
<circle cx="3164.7" cy="2655.9" r="13" fill="#545454"/>
<circle cx="3192.4" cy="2656.6" r="13" fill="#4e4e4e"/>
<circle cx="3219.5" cy="2647.4" r="13" fill="#484848"/>
<circle cx="3233.4" cy="2658.9" r="13" fill="#454545"/>
<circle cx="3228.8" cy="2643.9" r="13" fill="#464646"/>
<circle cx="3268.4" cy="2646.7" r="13" fill="#3d3d3d"/>
<circle cx="2966.1" cy="2658.9" r="13" fill="#808080"/>
<circle cx="3000.6" cy="2667.0" r="13" fill="#787878"/>
<circle cx="2985.7" cy="2661.9" r="13" fill="#7b7b7b"/>
<circle cx="2931.5" cy="2681.9" r="13" fill="#878787"/>
<circle cx="2961.5" cy="2693.5" r="13" fill="#818181"/>
<circle cx="2953.9" cy="2680.8" r="13" fill="#828282"/>
<circle cx="3049.0" cy="2663.5" r="13" fill="#6e6e6e"/>
<circle cx="3021.4" cy="2661.2" r="13" fill="#747474"/>
<circle cx="3035.2" cy="2672.0" r="13" fill="#717171"/>
<circle cx="3081.3" cy="2661.2" r="13" fill="#666666"/>
<circle cx="3092.8" cy="2681.9" r="13" fill="#646464"/>
<circle cx="3077.8" cy="2671.6" r="13" fill="#676767"/>
<circle cx="3100.9" cy="2668.1" r="13" fill="#626262"/>
<circle cx="3140.0" cy="2662.4" r="13" fill="#5a5a5a"/>
<circle cx="3144.7" cy="2670.4" r="13" fill="#595959"/>
<circle cx="3125.1" cy="2675.0" r="13" fill="#5d5d5d"/>
<circle cx="3164.2" cy="2681.9" r="13" fill="#545454"/>
<circle cx="3150.9" cy="2684.2" r="13" fill="#575757"/>
<circle cx="3194.2" cy="2675.0" r="13" fill="#4e4e4e"/>
<circle cx="3221.8" cy="2672.7" r="13" fill="#484848"/>
<circle cx="3249.5" cy="2677.3" r="13" fill="#424242"/>
<circle cx="3240.3" cy="2686.5" r="13" fill="#444444"/>
<circle cx="3208.0" cy="2691.2" r="13" fill="#4b4b4b"/>
<circle cx="3212.2" cy="2698.1" r="13" fill="#4a4a4a"/>
<circle cx="3281.8" cy="2662.4" r="13" fill="#3a3a3a"/>
<circle cx="3286.4" cy="2672.7" r="13" fill="#393939"/>
<circle cx="3302.5" cy="2652.0" r="13" fill="#363636"/>
<circle cx="3281.8" cy="2688.4" r="13" fill="#3a3a3a"/>
<circle cx="3295.6" cy="2693.5" r="13" fill="#373737"/>
<circle cx="2978.8" cy="2693.5" r="13" fill="#7d7d7d"/>
<circle cx="2994.9" cy="2702.7" r="13" fill="#797979"/>
<circle cx="2999.5" cy="2688.8" r="13" fill="#787878"/>
<circle cx="3019.1" cy="2686.5" r="13" fill="#747474"/>
<circle cx="3031.1" cy="2701.5" r="13" fill="#717171"/>
<circle cx="3019.5" cy="2699.2" r="13" fill="#747474"/>
<circle cx="3046.7" cy="2688.8" r="13" fill="#6e6e6e"/>
<circle cx="3061.7" cy="2699.2" r="13" fill="#6b6b6b"/>
<circle cx="3083.6" cy="2702.7" r="13" fill="#666666"/>
<circle cx="3102.0" cy="2693.5" r="13" fill="#626262"/>
<circle cx="3092.8" cy="2692.3" r="13" fill="#646464"/>
<circle cx="3164.2" cy="2700.4" r="13" fill="#545454"/>
<circle cx="3145.3" cy="2701.5" r="13" fill="#585858"/>
<circle cx="3196.5" cy="2693.5" r="13" fill="#4d4d4d"/>
<circle cx="3176.5" cy="2698.5" r="13" fill="#525252"/>
<circle cx="3374.2" cy="2482.6" r="13" fill="#262626"/>
<circle cx="3531.3" cy="2548.8" r="13" fill="#040404"/>
<circle cx="3548.4" cy="2677.3" r="13" fill="#000000"/>
<circle cx="3348.6" cy="2608.9" r="13" fill="#2c2c2c"/>
<circle cx="3326.0" cy="2637.0" r="13" fill="#313131"/>
<circle cx="3321.9" cy="2660.0" r="13" fill="#323232"/>
<circle cx="3385.9" cy="2670.9" r="13" fill="#242424"/>
<circle cx="3452.1" cy="2669.7" r="13" fill="#151515"/>
<circle cx="3453.2" cy="2693.0" r="13" fill="#151515"/>
<circle cx="3431.3" cy="2698.1" r="13" fill="#1a1a1a"/>
<circle cx="3397.2" cy="2695.8" r="13" fill="#212121"/>
<circle cx="3330.0" cy="2677.3" r="13" fill="#303030"/>
<circle cx="3350.7" cy="2687.7" r="13" fill="#2b2b2b"/>
<circle cx="3366.8" cy="2692.3" r="13" fill="#282828"/>
<circle cx="3360.6" cy="2699.2" r="13" fill="#292929"/>
<circle cx="3305.8" cy="2693.5" r="13" fill="#353535"/>
<circle cx="3325.3" cy="2698.1" r="13" fill="#313131"/>
<circle cx="3332.3" cy="2690.5" r="13" fill="#2f2f2f"/>
</g>
<path d="M3360.4 1679.0 L3382.0 1724.1 M3403.9 1769.8 L3424.9 1814.3 M3446.8 1860.3 L3468.1 1905.0 M3489.7 1950.7 L3511.0 1994.9 M3532.6 2040.6 L3559.2 2082.5 M3586.0 2125.1 L3602.4 2149.2 L3614.4 2165.6 M3644.1 2207.2 L3651.8 2218.7 L3674.3 2245.8 M3706.1 2285.7 L3722.8 2305.1 L3739.1 2319.6" fill="none" stroke="#ff0000" stroke-width="4.17" stroke-linejoin="round" clip-path="url(#s2)"/>
<line x1="2254.0" y1="2920.5" x2="2254.0" y2="2887.2" stroke="#808080" stroke-width="4.17"/>
<line x1="2421.0" y1="2920.5" x2="2421.0" y2="2887.2" stroke="#808080" stroke-width="4.17"/>
<line x1="2588.0" y1="2920.5" x2="2588.0" y2="2887.2" stroke="#808080" stroke-width="4.17"/>
<line x1="2755.0" y1="2920.5" x2="2755.0" y2="2887.2" stroke="#808080" stroke-width="4.17"/>
<line x1="2922.0" y1="2920.5" x2="2922.0" y2="2887.2" stroke="#808080" stroke-width="4.17"/>
<line x1="3089.0" y1="2920.5" x2="3089.0" y2="2887.2" stroke="#808080" stroke-width="4.17"/>
<line x1="3256.0" y1="2920.5" x2="3256.0" y2="2887.2" stroke="#808080" stroke-width="4.17"/>
<line x1="3423.0" y1="2920.5" x2="3423.0" y2="2887.2" stroke="#808080" stroke-width="4.17"/>
<line x1="3590.0" y1="2920.5" x2="3590.0" y2="2887.2" stroke="#808080" stroke-width="4.17"/>
<line x1="3757.0" y1="2920.5" x2="3757.0" y2="2887.2" stroke="#808080" stroke-width="4.17"/>
<line x1="2254.0" y1="2920.5" x2="2287.3" y2="2920.5" stroke="#808080" stroke-width="4.17"/>
<line x1="2254.0" y1="2744.7" x2="2287.3" y2="2744.7" stroke="#808080" stroke-width="4.17"/>
<line x1="2254.0" y1="2568.9" x2="2287.3" y2="2568.9" stroke="#808080" stroke-width="4.17"/>
<line x1="2254.0" y1="2393.1" x2="2287.3" y2="2393.1" stroke="#808080" stroke-width="4.17"/>
<line x1="2254.0" y1="2217.4" x2="2287.3" y2="2217.4" stroke="#808080" stroke-width="4.17"/>
<line x1="2254.0" y1="2041.6" x2="2287.3" y2="2041.6" stroke="#808080" stroke-width="4.17"/>
<line x1="2254.0" y1="1865.8" x2="2287.3" y2="1865.8" stroke="#808080" stroke-width="4.17"/>
<line x1="2254.0" y1="1690.0" x2="2287.3" y2="1690.0" stroke="#808080" stroke-width="4.17"/>
<line x1="2254.0" y1="1690.0" x2="2254.0" y2="2924.7" stroke="#808080" stroke-width="8.33"/>
<line x1="2249.8" y1="2920.5" x2="3757.0" y2="2920.5" stroke="#808080" stroke-width="8.33"/>
<text x="2254.0" y="3005.5" text-anchor="middle">0.08</text>
<text x="2421.0" y="3005.5" text-anchor="middle">0.10</text>
<text x="2588.0" y="3005.5" text-anchor="middle">0.12</text>
<text x="2755.0" y="3005.5" text-anchor="middle">0.14</text>
<text x="2922.0" y="3005.5" text-anchor="middle">0.16</text>
<text x="3089.0" y="3005.5" text-anchor="middle">0.18</text>
<text x="3256.0" y="3005.5" text-anchor="middle">0.20</text>
<text x="3423.0" y="3005.5" text-anchor="middle">0.22</text>
<text x="3590.0" y="3005.5" text-anchor="middle">0.24</text>
<text x="3757.0" y="3005.5" text-anchor="middle">0.26</text>
<text x="2225.5" y="2939.0" text-anchor="end">0</text>
<text x="2225.5" y="2763.2" text-anchor="end">2</text>
<text x="2225.5" y="2587.4" text-anchor="end">4</text>
<text x="2225.5" y="2411.6" text-anchor="end">6</text>
<text x="2225.5" y="2235.9" text-anchor="end">8</text>
<text x="2225.5" y="2060.1" text-anchor="end">10</text>
<text x="2225.5" y="1884.3" text-anchor="end">12</text>
<text x="2225.5" y="1708.5" text-anchor="end">14</text>
<text transform="translate(2616.5,3109.8) scale(1.167,1)" x="-3" y="0" style="font-family:'DejaVu Serif','Liberation Serif',serif">Δ</text>
<text x="3046.4" y="3109.8" text-anchor="middle">TD (mean TD = 0.17)</text>
<text transform="translate(2090.5,2304.8) rotate(-90)" text-anchor="middle">Sequence length (kbp)</text>
<line x1="3423.0" y1="4519.0" x2="3423.0" y2="3289.0" stroke="#808080" stroke-width="8.33" stroke-dasharray="50 50"/>
<clipPath id="s3"><rect x="2254.0" y="3289.0" width="1503.0" height="1230.0"/></clipPath>
<g clip-path="url(#s3)" stroke="#000" stroke-width="4.17">
<circle cx="3319.2" cy="4288.5" r="13" fill="#e3e3e3"/>
<circle cx="3655.9" cy="4285.0" r="13" fill="#c1c1c1"/>
<circle cx="3643.0" cy="4292.1" r="13" fill="#c4c4c4"/>
<circle cx="3458.5" cy="4278.7" r="13" fill="#f6f6f6"/>
<circle cx="3533.3" cy="4281.8" r="13" fill="#e2e2e2"/>
<circle cx="3471.1" cy="4231.0" r="13" fill="#f2f2f2"/>
<circle cx="3449.0" cy="4263.7" r="13" fill="#f8f8f8"/>
<circle cx="3356.0" cy="4222.8" r="13" fill="#ededed"/>
<circle cx="3646.1" cy="4299.3" r="13" fill="#c4c4c4"/>
<circle cx="3472.5" cy="4245.0" r="13" fill="#f2f2f2"/>
<circle cx="3473.6" cy="4243.0" r="13" fill="#f2f2f2"/>
<circle cx="3444.7" cy="4236.9" r="13" fill="#f9f9f9"/>
<circle cx="3434.0" cy="4241.4" r="13" fill="#fcfcfc"/>
<circle cx="3505.4" cy="4266.6" r="13" fill="#e9e9e9"/>
<circle cx="3585.0" cy="4231.7" r="13" fill="#d4d4d4"/>
<circle cx="3341.7" cy="4299.3" r="13" fill="#e9e9e9"/>
<circle cx="3334.7" cy="4263.0" r="13" fill="#e7e7e7"/>
<circle cx="3564.2" cy="4297.3" r="13" fill="#d9d9d9"/>
<circle cx="3368.7" cy="4299.3" r="13" fill="#f1f1f1"/>
<circle cx="3436.9" cy="4286.6" r="13" fill="#fbfbfb"/>
<circle cx="3555.8" cy="4255.1" r="13" fill="#dcdcdc"/>
<circle cx="3642.6" cy="4248.8" r="13" fill="#c4c4c4"/>
<circle cx="3271.7" cy="4279.8" r="13" fill="#d7d7d7"/>
<circle cx="3644.6" cy="4255.8" r="13" fill="#c4c4c4"/>
<circle cx="3560.9" cy="4257.7" r="13" fill="#dadada"/>
<circle cx="3318.5" cy="4248.3" r="13" fill="#e3e3e3"/>
<circle cx="3633.0" cy="4263.9" r="13" fill="#c7c7c7"/>
<circle cx="3470.5" cy="4235.9" r="13" fill="#f2f2f2"/>
<circle cx="3546.4" cy="4299.3" r="13" fill="#dedede"/>
<circle cx="3582.2" cy="4278.5" r="13" fill="#d5d5d5"/>
<circle cx="3328.8" cy="4297.0" r="13" fill="#e6e6e6"/>
<circle cx="3359.3" cy="4248.6" r="13" fill="#eeeeee"/>
<circle cx="3421.8" cy="4251.8" r="13" fill="#ffffff"/>
<circle cx="3522.3" cy="4285.2" r="13" fill="#e5e5e5"/>
<circle cx="3662.4" cy="4289.4" r="13" fill="#bfbfbf"/>
<circle cx="3387.8" cy="4246.3" r="13" fill="#f6f6f6"/>
<circle cx="3482.8" cy="4278.6" r="13" fill="#efefef"/>
<circle cx="3358.9" cy="4275.2" r="13" fill="#eeeeee"/>
<circle cx="3652.4" cy="4227.7" r="13" fill="#c2c2c2"/>
<circle cx="3625.4" cy="4262.3" r="13" fill="#c9c9c9"/>
<circle cx="3604.1" cy="4286.2" r="13" fill="#cfcfcf"/>
<circle cx="3580.8" cy="4283.2" r="13" fill="#d5d5d5"/>
<circle cx="3381.5" cy="4245.5" r="13" fill="#f4f4f4"/>
<circle cx="3616.6" cy="4223.6" r="13" fill="#cbcbcb"/>
<circle cx="3318.6" cy="4278.0" r="13" fill="#e3e3e3"/>
<circle cx="3375.8" cy="4297.4" r="13" fill="#f2f2f2"/>
<circle cx="3393.7" cy="4284.6" r="13" fill="#f7f7f7"/>
<circle cx="3327.5" cy="4294.4" r="13" fill="#e6e6e6"/>
<circle cx="3622.3" cy="4293.8" r="13" fill="#cacaca"/>
<circle cx="3282.6" cy="4238.1" r="13" fill="#dadada"/>
<circle cx="3374.3" cy="4261.3" r="13" fill="#f2f2f2"/>
<circle cx="3248.7" cy="4267.5" r="13" fill="#d1d1d1"/>
<circle cx="3557.1" cy="4250.4" r="13" fill="#dbdbdb"/>
<circle cx="3608.7" cy="4279.2" r="13" fill="#cecece"/>
<circle cx="3372.6" cy="4296.5" r="13" fill="#f2f2f2"/>
<circle cx="3648.9" cy="4274.7" r="13" fill="#c3c3c3"/>
<circle cx="3340.5" cy="4299.3" r="13" fill="#e9e9e9"/>
<circle cx="3232.3" cy="4264.0" r="13" fill="#cccccc"/>
<circle cx="3318.7" cy="4246.6" r="13" fill="#e3e3e3"/>
<circle cx="3402.6" cy="4295.1" r="13" fill="#fafafa"/>
<circle cx="3618.6" cy="4299.3" r="13" fill="#cbcbcb"/>
<circle cx="3394.9" cy="4261.0" r="13" fill="#f8f8f8"/>
<circle cx="3552.3" cy="4299.3" r="13" fill="#dddddd"/>
<circle cx="3589.6" cy="4236.4" r="13" fill="#d3d3d3"/>
<circle cx="3394.9" cy="4274.8" r="13" fill="#f8f8f8"/>
<circle cx="3385.6" cy="4247.0" r="13" fill="#f5f5f5"/>
<circle cx="3641.4" cy="4287.4" r="13" fill="#c5c5c5"/>
<circle cx="3435.9" cy="4299.3" r="13" fill="#fcfcfc"/>
<circle cx="3633.7" cy="4272.7" r="13" fill="#c7c7c7"/>
<circle cx="3377.3" cy="4242.0" r="13" fill="#f3f3f3"/>
<circle cx="3451.4" cy="3356.3" r="13" fill="#f7f7f7"/>
<circle cx="3379.9" cy="3642.5" r="13" fill="#f4f4f4"/>
<circle cx="3404.3" cy="3781.3" r="13" fill="#fafafa"/>
<circle cx="3572.2" cy="3791.4" r="13" fill="#d7d7d7"/>
<circle cx="3439.8" cy="3877.0" r="13" fill="#fbfbfb"/>
<circle cx="3483.9" cy="3885.3" r="13" fill="#efefef"/>
<circle cx="3613.4" cy="3886.0" r="13" fill="#cccccc"/>
<circle cx="3215.4" cy="3949.2" r="13" fill="#c8c8c8"/>
<circle cx="3531.1" cy="3936.1" r="13" fill="#e2e2e2"/>
<circle cx="3516.9" cy="3932.4" r="13" fill="#e6e6e6"/>
<circle cx="3596.9" cy="3936.9" r="13" fill="#d1d1d1"/>
<circle cx="3577.8" cy="3967.9" r="13" fill="#d6d6d6"/>
<circle cx="3626.5" cy="3970.6" r="13" fill="#c9c9c9"/>
<circle cx="3504.9" cy="3976.2" r="13" fill="#e9e9e9"/>
<circle cx="3590.2" cy="3991.5" r="13" fill="#d2d2d2"/>
<circle cx="3366.9" cy="3998.2" r="13" fill="#f0f0f0"/>
<circle cx="3497.0" cy="4006.5" r="13" fill="#ebebeb"/>
<circle cx="3544.2" cy="4006.1" r="13" fill="#dfdfdf"/>
<circle cx="3335.4" cy="4026.7" r="13" fill="#e8e8e8"/>
<circle cx="3370.6" cy="4029.7" r="13" fill="#f1f1f1"/>
<circle cx="3423.3" cy="4040.9" r="13" fill="#ffffff"/>
<circle cx="3454.4" cy="4045.7" r="13" fill="#f7f7f7"/>
<circle cx="3466.7" cy="4044.6" r="13" fill="#f3f3f3"/>
<circle cx="3490.7" cy="4040.1" r="13" fill="#ededed"/>
<circle cx="3617.9" cy="4062.2" r="13" fill="#cbcbcb"/>
<circle cx="3399.0" cy="4065.9" r="13" fill="#f9f9f9"/>
<circle cx="3365.0" cy="4073.4" r="13" fill="#f0f0f0"/>
<circle cx="3348.1" cy="4080.2" r="13" fill="#ebebeb"/>
<circle cx="3460.0" cy="4076.4" r="13" fill="#f5f5f5"/>
<circle cx="2466.5" cy="4230.2" r="13" fill="#000000"/>
<circle cx="2713.2" cy="4227.6" r="13" fill="#424242"/>
<circle cx="2868.7" cy="4146.3" r="13" fill="#6b6b6b"/>
<circle cx="2939.6" cy="4145.5" r="13" fill="#7e7e7e"/>
<circle cx="3002.2" cy="4162.3" r="13" fill="#8f8f8f"/>
<circle cx="3111.1" cy="4129.1" r="13" fill="#acacac"/>
<circle cx="2822.9" cy="4206.4" r="13" fill="#5f5f5f"/>
<circle cx="3068.8" cy="4207.7" r="13" fill="#a1a1a1"/>
<circle cx="2856.6" cy="4263.4" r="13" fill="#686868"/>
<circle cx="2781.5" cy="4296.7" r="13" fill="#545454"/>
<circle cx="2961.2" cy="4296.7" r="13" fill="#848484"/>
<circle cx="2988.0" cy="4271.6" r="13" fill="#8b8b8b"/>
<circle cx="3033.3" cy="4238.8" r="13" fill="#979797"/>
<circle cx="3024.7" cy="4259.1" r="13" fill="#959595"/>
<circle cx="3043.7" cy="4263.0" r="13" fill="#9a9a9a"/>
<circle cx="3054.9" cy="4270.8" r="13" fill="#9d9d9d"/>
<circle cx="3205.5" cy="4118.0" r="13" fill="#c5c5c5"/>
<circle cx="3182.3" cy="4118.7" r="13" fill="#bfbfbf"/>
<circle cx="3210.1" cy="4135.3" r="13" fill="#c6c6c6"/>
<circle cx="3184.8" cy="4145.2" r="13" fill="#c0c0c0"/>
<circle cx="3167.5" cy="4158.3" r="13" fill="#bbbbbb"/>
<circle cx="3182.9" cy="4169.8" r="13" fill="#bfbfbf"/>
<circle cx="3186.9" cy="4182.0" r="13" fill="#c0c0c0"/>
<circle cx="3217.5" cy="4185.9" r="13" fill="#c8c8c8"/>
<circle cx="3302.8" cy="4100.7" r="13" fill="#dfdfdf"/>
<circle cx="3253.2" cy="4119.1" r="13" fill="#d2d2d2"/>
<circle cx="3270.0" cy="4116.4" r="13" fill="#d6d6d6"/>
<circle cx="3277.4" cy="4131.8" r="13" fill="#d8d8d8"/>
<circle cx="3286.6" cy="4130.6" r="13" fill="#dbdbdb"/>
<circle cx="3300.0" cy="4129.0" r="13" fill="#dedede"/>
<circle cx="3252.1" cy="4134.1" r="13" fill="#d1d1d1"/>
<circle cx="3264.7" cy="4179.0" r="13" fill="#d5d5d5"/>
<circle cx="3265.2" cy="4161.8" r="13" fill="#d5d5d5"/>
<circle cx="3282.0" cy="4188.7" r="13" fill="#d9d9d9"/>
<circle cx="3348.8" cy="4139.9" r="13" fill="#ebebeb"/>
<circle cx="3328.1" cy="4132.9" r="13" fill="#e6e6e6"/>
<circle cx="3360.8" cy="4119.1" r="13" fill="#eeeeee"/>
<circle cx="3346.5" cy="4176.7" r="13" fill="#ebebeb"/>
<circle cx="3353.5" cy="4160.6" r="13" fill="#ececec"/>
<circle cx="3321.9" cy="4188.9" r="13" fill="#e4e4e4"/>
<circle cx="3362.7" cy="4190.6" r="13" fill="#efefef"/>
<circle cx="3359.2" cy="4182.5" r="13" fill="#eeeeee"/>
<circle cx="3393.8" cy="4094.9" r="13" fill="#f7f7f7"/>
<circle cx="3422.6" cy="4099.5" r="13" fill="#ffffff"/>
<circle cx="3424.9" cy="4108.8" r="13" fill="#fefefe"/>
<circle cx="3403.0" cy="4112.9" r="13" fill="#fafafa"/>
<circle cx="3397.2" cy="4135.3" r="13" fill="#f8f8f8"/>
<circle cx="3415.7" cy="4142.2" r="13" fill="#fdfdfd"/>
<circle cx="3384.1" cy="4149.8" r="13" fill="#f5f5f5"/>
<circle cx="3415.7" cy="4151.4" r="13" fill="#fdfdfd"/>
<circle cx="3457.1" cy="4131.8" r="13" fill="#f6f6f6"/>
<circle cx="3439.9" cy="4142.2" r="13" fill="#fafafa"/>
<circle cx="3432.5" cy="4171.4" r="13" fill="#fcfcfc"/>
<circle cx="3397.2" cy="4176.7" r="13" fill="#f8f8f8"/>
<circle cx="3404.1" cy="4185.9" r="13" fill="#fafafa"/>
<circle cx="3454.8" cy="4189.4" r="13" fill="#f7f7f7"/>
<circle cx="3422.6" cy="4203.2" r="13" fill="#ffffff"/>
<circle cx="3456.0" cy="4202.1" r="13" fill="#f6f6f6"/>
<circle cx="3438.2" cy="4212.4" r="13" fill="#fbfbfb"/>
<circle cx="3353.5" cy="4199.8" r="13" fill="#ececec"/>
<circle cx="3332.7" cy="4211.3" r="13" fill="#e7e7e7"/>
<circle cx="3343.5" cy="4207.4" r="13" fill="#eaeaea"/>
<circle cx="3385.0" cy="4209.4" r="13" fill="#f5f5f5"/>
<circle cx="3321.2" cy="4222.8" r="13" fill="#e4e4e4"/>
<circle cx="3367.3" cy="4234.3" r="13" fill="#f0f0f0"/>
<circle cx="3351.2" cy="4235.0" r="13" fill="#ececec"/>
<circle cx="3385.3" cy="4233.6" r="13" fill="#f5f5f5"/>
<circle cx="3324.7" cy="4249.3" r="13" fill="#e5e5e5"/>
<circle cx="3307.4" cy="4241.2" r="13" fill="#e0e0e0"/>
<circle cx="3305.1" cy="4252.8" r="13" fill="#e0e0e0"/>
<circle cx="3337.3" cy="4245.4" r="13" fill="#e8e8e8"/>
<circle cx="3284.3" cy="4234.3" r="13" fill="#dadada"/>
<circle cx="3261.3" cy="4240.1" r="13" fill="#d4d4d4"/>
<circle cx="3291.2" cy="4244.7" r="13" fill="#dcdcdc"/>
<circle cx="3272.8" cy="4218.2" r="13" fill="#d7d7d7"/>
<circle cx="3274.0" cy="4242.4" r="13" fill="#d7d7d7"/>
<circle cx="3283.2" cy="4264.3" r="13" fill="#dadada"/>
<circle cx="3392.6" cy="4250.5" r="13" fill="#f7f7f7"/>
<circle cx="3383.4" cy="4267.7" r="13" fill="#f4f4f4"/>
<circle cx="3413.4" cy="4252.8" r="13" fill="#fcfcfc"/>
<circle cx="3404.1" cy="4266.6" r="13" fill="#fafafa"/>
<circle cx="3376.5" cy="4260.8" r="13" fill="#f3f3f3"/>
<circle cx="3434.1" cy="4248.2" r="13" fill="#fcfcfc"/>
<circle cx="3442.9" cy="4240.1" r="13" fill="#fafafa"/>
<circle cx="3438.7" cy="4263.1" r="13" fill="#fbfbfb"/>
<circle cx="3454.1" cy="4265.9" r="13" fill="#f7f7f7"/>
<circle cx="3330.4" cy="4271.2" r="13" fill="#e6e6e6"/>
<circle cx="3362.7" cy="4280.4" r="13" fill="#efefef"/>
<circle cx="3351.2" cy="4275.8" r="13" fill="#ececec"/>
<circle cx="3332.7" cy="4285.0" r="13" fill="#e7e7e7"/>
<circle cx="3391.5" cy="4283.9" r="13" fill="#f7f7f7"/>
<circle cx="3414.5" cy="4288.5" r="13" fill="#fdfdfd"/>
<circle cx="3365.0" cy="4298.8" r="13" fill="#f0f0f0"/>
<circle cx="3385.7" cy="4297.7" r="13" fill="#f5f5f5"/>
<circle cx="3330.4" cy="4298.8" r="13" fill="#e6e6e6"/>
<circle cx="3316.6" cy="4298.8" r="13" fill="#e3e3e3"/>
<circle cx="3353.5" cy="4300.0" r="13" fill="#ececec"/>
<circle cx="3422.6" cy="4300.0" r="13" fill="#ffffff"/>
<circle cx="3457.1" cy="4287.3" r="13" fill="#f6f6f6"/>
<circle cx="3442.9" cy="4298.8" r="13" fill="#fafafa"/>
<circle cx="3233.6" cy="4280.4" r="13" fill="#cdcdcd"/>
<circle cx="3242.9" cy="4271.2" r="13" fill="#cfcfcf"/>
<circle cx="3250.9" cy="4270.0" r="13" fill="#d1d1d1"/>
<circle cx="3270.5" cy="4295.4" r="13" fill="#d6d6d6"/>
<circle cx="3285.5" cy="4290.8" r="13" fill="#dadada"/>
<circle cx="3262.4" cy="4288.5" r="13" fill="#d4d4d4"/>
<circle cx="3298.2" cy="4287.3" r="13" fill="#dedede"/>
<circle cx="3187.6" cy="4222.8" r="13" fill="#c0c0c0"/>
<circle cx="3203.7" cy="4219.4" r="13" fill="#c5c5c5"/>
<circle cx="3153.0" cy="4240.1" r="13" fill="#b7b7b7"/>
<circle cx="3172.1" cy="4233.2" r="13" fill="#bcbcbc"/>
<circle cx="3199.1" cy="4250.5" r="13" fill="#c3c3c3"/>
<circle cx="3196.8" cy="4264.3" r="13" fill="#c3c3c3"/>
<circle cx="3192.2" cy="4253.9" r="13" fill="#c2c2c2"/>
<circle cx="3106.9" cy="4249.3" r="13" fill="#ababab"/>
<circle cx="3100.0" cy="4282.7" r="13" fill="#a9a9a9"/>
<circle cx="3119.1" cy="4270.0" r="13" fill="#aeaeae"/>
<circle cx="3149.5" cy="4270.0" r="13" fill="#b6b6b6"/>
<circle cx="3144.9" cy="4285.0" r="13" fill="#b5b5b5"/>
<circle cx="3166.1" cy="4271.9" r="13" fill="#bbbbbb"/>
<circle cx="3173.7" cy="4289.6" r="13" fill="#bdbdbd"/>
<circle cx="3186.4" cy="4297.7" r="13" fill="#c0c0c0"/>
<circle cx="3194.5" cy="4280.4" r="13" fill="#c2c2c2"/>
<circle cx="3196.3" cy="4287.3" r="13" fill="#c3c3c3"/>
<circle cx="3499.9" cy="4092.6" r="13" fill="#ebebeb"/>
<circle cx="3502.7" cy="4093.8" r="13" fill="#eaeaea"/>
<circle cx="3541.8" cy="4092.2" r="13" fill="#dfdfdf"/>
<circle cx="3478.0" cy="4106.5" r="13" fill="#f0f0f0"/>
<circle cx="3509.1" cy="4114.1" r="13" fill="#e8e8e8"/>
<circle cx="3493.0" cy="4121.9" r="13" fill="#ececec"/>
<circle cx="3590.5" cy="4116.4" r="13" fill="#d2d2d2"/>
<circle cx="3648.5" cy="4116.8" r="13" fill="#c3c3c3"/>
<circle cx="3634.2" cy="4099.5" r="13" fill="#c7c7c7"/>
<circle cx="3643.9" cy="4127.2" r="13" fill="#c4c4c4"/>
<circle cx="3634.2" cy="4133.6" r="13" fill="#c7c7c7"/>
<circle cx="3619.7" cy="4152.5" r="13" fill="#cbcbcb"/>
<circle cx="3645.1" cy="4151.4" r="13" fill="#c4c4c4"/>
<circle cx="3658.4" cy="4147.5" r="13" fill="#c0c0c0"/>
<circle cx="3536.3" cy="4131.3" r="13" fill="#e1e1e1"/>
<circle cx="3472.3" cy="4138.7" r="13" fill="#f2f2f2"/>
<circle cx="3464.2" cy="4149.1" r="13" fill="#f4f4f4"/>
<circle cx="3480.3" cy="4172.1" r="13" fill="#f0f0f0"/>
<circle cx="3468.8" cy="4164.1" r="13" fill="#f3f3f3"/>
<circle cx="3518.3" cy="4164.5" r="13" fill="#e6e6e6"/>
<circle cx="3531.0" cy="4158.3" r="13" fill="#e2e2e2"/>
<circle cx="3539.1" cy="4179.5" r="13" fill="#e0e0e0"/>
<circle cx="3542.5" cy="4157.1" r="13" fill="#dfdfdf"/>
<circle cx="3610.5" cy="4179.0" r="13" fill="#cdcdcd"/>
<circle cx="3584.0" cy="4164.5" r="13" fill="#d4d4d4"/>
<circle cx="3662.4" cy="4174.4" r="13" fill="#bfbfbf"/>
<circle cx="3649.7" cy="4185.9" r="13" fill="#c3c3c3"/>
<circle cx="3646.7" cy="4191.0" r="13" fill="#c3c3c3"/>
<circle cx="3503.4" cy="4199.8" r="13" fill="#eaeaea"/>
<circle cx="3495.3" cy="4212.4" r="13" fill="#ececec"/>
<circle cx="3478.7" cy="4207.4" r="13" fill="#f0f0f0"/>
<circle cx="3522.3" cy="4199.8" r="13" fill="#e5e5e5"/>
<circle cx="3593.2" cy="4191.7" r="13" fill="#d2d2d2"/>
<circle cx="3589.8" cy="4210.1" r="13" fill="#d3d3d3"/>
<circle cx="3590.9" cy="4197.5" r="13" fill="#d2d2d2"/>
<circle cx="3562.6" cy="4199.8" r="13" fill="#dadada"/>
<circle cx="3631.2" cy="4199.8" r="13" fill="#c8c8c8"/>
<circle cx="3624.3" cy="4214.7" r="13" fill="#c9c9c9"/>
<circle cx="3654.3" cy="4214.7" r="13" fill="#c1c1c1"/>
<circle cx="3657.7" cy="4220.5" r="13" fill="#c0c0c0"/>
<circle cx="3641.2" cy="4208.3" r="13" fill="#c5c5c5"/>
<circle cx="3543.7" cy="4220.5" r="13" fill="#dfdfdf"/>
<circle cx="3500.6" cy="4220.5" r="13" fill="#eaeaea"/>
<circle cx="3526.4" cy="4218.2" r="13" fill="#e3e3e3"/>
<circle cx="3580.6" cy="4225.1" r="13" fill="#d5d5d5"/>
<circle cx="3611.7" cy="4231.3" r="13" fill="#cdcdcd"/>
<circle cx="3599.0" cy="4236.6" r="13" fill="#d0d0d0"/>
<circle cx="3584.0" cy="4234.3" r="13" fill="#d4d4d4"/>
<circle cx="3597.4" cy="4247.0" r="13" fill="#d1d1d1"/>
<circle cx="3657.7" cy="4237.8" r="13" fill="#c0c0c0"/>
<circle cx="3642.8" cy="4234.3" r="13" fill="#c4c4c4"/>
<circle cx="3636.5" cy="4253.5" r="13" fill="#c6c6c6"/>
<circle cx="3466.5" cy="4233.2" r="13" fill="#f3f3f3"/>
<circle cx="3467.2" cy="4240.8" r="13" fill="#f3f3f3"/>
<circle cx="3559.8" cy="4257.4" r="13" fill="#dbdbdb"/>
<circle cx="3566.7" cy="4264.3" r="13" fill="#d9d9d9"/>
<circle cx="3522.5" cy="4247.0" r="13" fill="#e4e4e4"/>
<circle cx="3548.3" cy="4244.7" r="13" fill="#dedede"/>
<circle cx="3497.6" cy="4256.7" r="13" fill="#ebebeb"/>
<circle cx="3440.0" cy="4280.4" r="13" fill="#fafafa"/>
<circle cx="3478.0" cy="4283.9" r="13" fill="#f0f0f0"/>
<circle cx="3488.4" cy="4275.8" r="13" fill="#eeeeee"/>
<circle cx="3526.4" cy="4273.5" r="13" fill="#e3e3e3"/>
<circle cx="3532.2" cy="4280.4" r="13" fill="#e2e2e2"/>
<circle cx="3519.5" cy="4294.2" r="13" fill="#e5e5e5"/>
<circle cx="3513.3" cy="4281.1" r="13" fill="#e7e7e7"/>
<circle cx="3589.8" cy="4280.4" r="13" fill="#d3d3d3"/>
<circle cx="3588.6" cy="4274.7" r="13" fill="#d3d3d3"/>
<circle cx="3610.5" cy="4266.6" r="13" fill="#cdcdcd"/>
<circle cx="3635.9" cy="4273.5" r="13" fill="#c6c6c6"/>
<circle cx="3621.3" cy="4272.8" r="13" fill="#cacaca"/>
<circle cx="3657.7" cy="4264.3" r="13" fill="#c0c0c0"/>
<circle cx="3552.9" cy="4295.4" r="13" fill="#dcdcdc"/>
<circle cx="3564.4" cy="4294.2" r="13" fill="#d9d9d9"/>
<circle cx="3557.5" cy="4291.2" r="13" fill="#dbdbdb"/>
<circle cx="3599.0" cy="4296.5" r="13" fill="#d0d0d0"/>
<circle cx="3631.2" cy="4300.0" r="13" fill="#c8c8c8"/>
<circle cx="3647.4" cy="4297.7" r="13" fill="#c3c3c3"/>
<circle cx="3658.9" cy="4294.2" r="13" fill="#c0c0c0"/>
<circle cx="3618.6" cy="4290.8" r="13" fill="#cbcbcb"/>
<circle cx="3656.6" cy="4282.7" r="13" fill="#c1c1c1"/>
</g>
<path d="M2906.1 3315.6 L2903.9 3365.6 M2901.2 3416.1 L2898.5 3465.4 M2895.9 3515.8 L2893.2 3565.1 M2891.0 3615.2 L2890.2 3639.9 L2886.4 3664.9 M2880.0 3715.0 L2878.1 3730.9 L2870.1 3763.1 M2858.0 3812.4 L2850.0 3861.0 M2841.3 3911.0 L2826.1 3957.3 M2810.9 4005.9 L2795.8 4052.5 M2776.7 4100.5 L2752.1 4142.0 M2724.9 4185.2 L2706.7 4212.0 L2693.8 4223.7 M2657.0 4259.1 L2617.3 4287.6 M2575.5 4315.3 L2532.9 4340.9 M2487.7 4363.4 L2440.7 4379.2 M2392.6 4393.6 L2344.3 4406.0 M2295.3 4416.6 L2254.0 4424.0" fill="none" stroke="#ff0000" stroke-width="4.17" stroke-linejoin="round" clip-path="url(#s3)"/>
<path d="M3617.1 3329.0 L3619.4 3378.0 M3621.6 3429.3 L3623.8 3477.9 M3625.7 3529.2 L3628.3 3577.8 M3630.2 3628.7 L3633.2 3678.0 M3636.2 3728.5 L3639.9 3777.2 M3643.3 3828.4 L3647.4 3877.0 M3651.5 3928.3 L3656.4 3976.5 M3661.6 4027.4 L3666.9 4075.7 M3671.7 4127.0 L3677.1 4175.4 M3682.2 4226.3 L3687.5 4275.3 M3692.4 4325.7 L3694.4 4343.9 L3697.1 4360.5 L3697.9 4374.6 M3701.6 4425.2 L3702.6 4450.6 L3703.2 4457.5 L3703.4 4474.5" fill="none" stroke="#ff0000" stroke-width="4.17" stroke-linejoin="round" clip-path="url(#s3)"/>
<line x1="2254.0" y1="4519.0" x2="2254.0" y2="4485.7" stroke="#808080" stroke-width="4.17"/>
<line x1="2421.0" y1="4519.0" x2="2421.0" y2="4485.7" stroke="#808080" stroke-width="4.17"/>
<line x1="2588.0" y1="4519.0" x2="2588.0" y2="4485.7" stroke="#808080" stroke-width="4.17"/>
<line x1="2755.0" y1="4519.0" x2="2755.0" y2="4485.7" stroke="#808080" stroke-width="4.17"/>
<line x1="2922.0" y1="4519.0" x2="2922.0" y2="4485.7" stroke="#808080" stroke-width="4.17"/>
<line x1="3089.0" y1="4519.0" x2="3089.0" y2="4485.7" stroke="#808080" stroke-width="4.17"/>
<line x1="3256.0" y1="4519.0" x2="3256.0" y2="4485.7" stroke="#808080" stroke-width="4.17"/>
<line x1="3423.0" y1="4519.0" x2="3423.0" y2="4485.7" stroke="#808080" stroke-width="4.17"/>
<line x1="3590.0" y1="4519.0" x2="3590.0" y2="4485.7" stroke="#808080" stroke-width="4.17"/>
<line x1="3757.0" y1="4519.0" x2="3757.0" y2="4485.7" stroke="#808080" stroke-width="4.17"/>
<line x1="2254.0" y1="4519.0" x2="2287.3" y2="4519.0" stroke="#808080" stroke-width="4.17"/>
<line x1="2254.0" y1="4343.3" x2="2287.3" y2="4343.3" stroke="#808080" stroke-width="4.17"/>
<line x1="2254.0" y1="4167.6" x2="2287.3" y2="4167.6" stroke="#808080" stroke-width="4.17"/>
<line x1="2254.0" y1="3991.9" x2="2287.3" y2="3991.9" stroke="#808080" stroke-width="4.17"/>
<line x1="2254.0" y1="3816.1" x2="2287.3" y2="3816.1" stroke="#808080" stroke-width="4.17"/>
<line x1="2254.0" y1="3640.4" x2="2287.3" y2="3640.4" stroke="#808080" stroke-width="4.17"/>
<line x1="2254.0" y1="3464.7" x2="2287.3" y2="3464.7" stroke="#808080" stroke-width="4.17"/>
<line x1="2254.0" y1="3289.0" x2="2287.3" y2="3289.0" stroke="#808080" stroke-width="4.17"/>
<line x1="2254.0" y1="3289.0" x2="2254.0" y2="4523.2" stroke="#808080" stroke-width="8.33"/>
<line x1="2249.8" y1="4519.0" x2="3757.0" y2="4519.0" stroke="#808080" stroke-width="8.33"/>
<text x="2254.0" y="4604.0" text-anchor="middle">−0.35</text>
<text x="2421.0" y="4604.0" text-anchor="middle">−0.30</text>
<text x="2588.0" y="4604.0" text-anchor="middle">−0.25</text>
<text x="2755.0" y="4604.0" text-anchor="middle">−0.20</text>
<text x="2922.0" y="4604.0" text-anchor="middle">−0.15</text>
<text x="3089.0" y="4604.0" text-anchor="middle">−0.10</text>
<text x="3256.0" y="4604.0" text-anchor="middle">−0.05</text>
<text x="3423.0" y="4604.0" text-anchor="middle">0.00</text>
<text x="3590.0" y="4604.0" text-anchor="middle">0.05</text>
<text x="3757.0" y="4604.0" text-anchor="middle">0.10</text>
<text x="2225.5" y="4537.5" text-anchor="end">0</text>
<text x="2225.5" y="4361.8" text-anchor="end">2</text>
<text x="2225.5" y="4186.1" text-anchor="end">4</text>
<text x="2225.5" y="4010.4" text-anchor="end">6</text>
<text x="2225.5" y="3834.6" text-anchor="end">8</text>
<text x="2225.5" y="3658.9" text-anchor="end">10</text>
<text x="2225.5" y="3483.2" text-anchor="end">12</text>
<text x="2225.5" y="3307.5" text-anchor="end">14</text>
<text transform="translate(2383.8,4711.2) scale(1.167,1)" x="-3" y="0" style="font-family:'DejaVu Serif','Liberation Serif',serif">Δ</text>
<text x="3046.4" y="4711.2" text-anchor="middle">CD (mean coding density = 92.8%)</text>
<text transform="translate(2090.5,3903.5) rotate(-90)" text-anchor="middle">Sequence length (kbp)</text>
</svg></body></html>
